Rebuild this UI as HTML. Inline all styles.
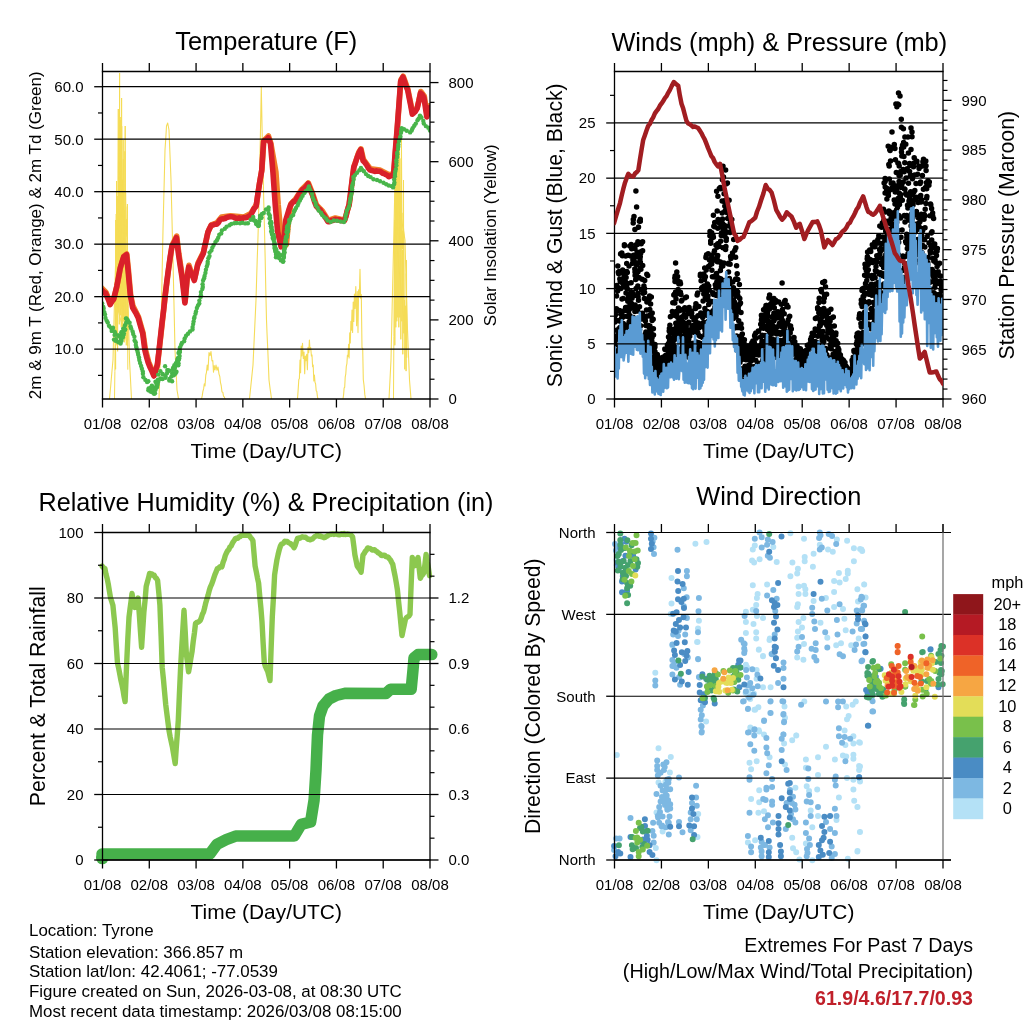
<!DOCTYPE html><html><head><meta charset="utf-8"><style>html,body{margin:0;padding:0;background:#fff;width:1024px;height:1024px;overflow:hidden}svg{display:block;will-change:transform;-webkit-font-smoothing:antialiased}</style></head><body><svg width="1024" height="1024" viewBox="0 0 1024 1024" font-family="Liberation Sans, sans-serif">
<rect width="1024" height="1024" fill="#fff"/>
<defs><clipPath id="cTL"><rect x="102.5" y="71.5" width="327.5" height="327.5"/></clipPath></defs><g clip-path="url(#cTL)">
<polyline points="159.0,399.0 160.0,364.5 161.0,330.0 162.0,280.0 163.0,230.0 164.0,190.0 165.0,150.0 165.8,138.0 166.5,126.0 167.7,123.0 169.0,130.0 170.0,155.0 171.0,180.0 172.0,220.0 173.0,260.0 174.0,305.0 175.0,350.0 176.0,370.0 177.0,390.0 177.8,394.5 178.5,399.0" fill="none" stroke="#f5dc5a" stroke-width="1.1" stroke-linejoin="round" stroke-linecap="round" />
<polyline points="201.5,399.0 202.2,395.9 202.9,391.4 203.6,388.9 204.3,383.8 205.0,385.9 205.8,375.0 206.5,372.3 207.2,365.0 208.0,370.3 209.0,352.5 210.0,355.6 211.0,351.5 212.0,361.0 212.8,360.5 213.5,372.1 214.2,365.5 215.0,370.0 216.0,365.0 217.0,370.3 218.0,367.0 219.0,374.1 219.8,376.5 220.5,382.6 221.2,385.5 222.0,392.0 222.8,392.2 223.5,396.2 224.2,396.8 225.0,399.0" fill="none" stroke="#f5dc5a" stroke-width="1.1" stroke-linejoin="round" stroke-linecap="round" />
<polyline points="249.5,399.0 250.2,392.2 250.9,385.4 251.6,378.6 252.3,371.8 253.0,365.0 253.6,352.0 254.2,339.0 254.8,326.0 255.4,313.0 256.0,300.0 256.6,280.0 257.2,260.0 257.9,240.0 258.5,220.0 259.1,193.3 259.7,166.7 260.3,140.0 261.3,87.0 262.5,150.0 263.2,176.7 263.8,203.3 264.5,230.0 265.2,260.0 265.8,290.0 266.5,320.0 267.1,335.0 267.8,350.0 268.4,365.0 269.0,380.0 269.6,384.8 270.2,389.5 270.9,394.2 271.5,399.0" fill="none" stroke="#f5dc5a" stroke-width="1.1" stroke-linejoin="round" stroke-linecap="round" />
<polyline points="297.5,399.0 298.1,390.6 298.8,379.5 299.4,378.6 300.0,360.0 300.6,372.7 301.2,346.0 301.8,355.9 302.5,343.3 303.3,358.4 304.0,352.0 304.7,373.8 305.3,356.0 306.0,360.8 306.7,354.4 307.4,369.8 308.0,347.2 308.7,352.8 309.4,340.0 310.0,349.7 310.7,347.5 311.4,355.9 312.0,355.0 312.6,366.8 313.2,365.0 313.8,380.9 314.4,375.0 315.0,382.3 315.6,383.8 316.2,390.8 316.8,391.4 317.4,396.4 318.0,399.0" fill="none" stroke="#f5dc5a" stroke-width="1.1" stroke-linejoin="round" stroke-linecap="round" />
<polyline points="343.0,399.0 343.6,394.6 344.1,388.1 344.7,387.1 345.2,377.2 345.8,373.8 346.3,366.3 346.9,363.7 347.4,355.4 348.0,356.5 348.6,344.3 349.1,358.0 349.7,332.9 350.3,343.0 350.9,321.4 351.4,330.3 352.0,310.0 352.6,332.4 353.2,302.0 353.8,321.4 354.4,294.0 355.0,308.5 355.8,286.5 356.6,325.7 357.3,291.5 358.0,332.6 358.6,289.8 359.3,297.1 360.0,269.2 360.6,298.2 361.3,294.5 362.0,347.9 362.7,348.3 363.3,379.6 364.0,385.0 364.8,394.4 365.5,399.0" fill="none" stroke="#f5dc5a" stroke-width="1.1" stroke-linejoin="round" stroke-linecap="round" />
<polyline points="109.5,399.0 110.7,386.0 111.8,373.0 113.0,360.0 114.5,300.0 116.0,250.0 117.0,250.0 118.0,250.0 119.0,250.0 120.0,250.0 121.0,250.0 122.0,250.0 123.0,250.0 124.0,250.0 125.0,250.0 126.0,250.0 127.0,275.0 128.0,300.0 129.5,360.0 130.5,379.5 131.5,399.0" fill="none" stroke="#f5dc5a" stroke-width="1.1" stroke-linejoin="round" stroke-linecap="round" />
<polyline points="389.0,399.0 390.0,379.5 391.0,360.0 392.2,305.0 393.5,250.0 395.0,180.0 396.0,186.0 397.0,192.0 398.0,198.0 399.0,204.0 400.0,210.0 401.0,216.0 402.0,222.0 403.0,228.0 404.0,234.0 405.0,240.0 406.2,285.0 407.5,330.0 408.5,355.0 409.5,380.0 411.0,399.0" fill="none" stroke="#f5dc5a" stroke-width="1.1" stroke-linejoin="round" stroke-linecap="round" />
<polyline points="114.5,399.0 114.9,371.4 115.3,300.7 115.7,274.3 116.1,214.2 116.5,214.9 116.9,211.9 117.3,255.0 117.7,196.1 118.1,230.9 118.5,130.3 118.9,247.1 119.3,116.9 119.7,187.4 120.1,117.0 120.5,210.2 120.9,161.0 121.3,234.5 121.7,126.1 122.1,218.5 122.5,180.2 122.9,178.5 123.3,159.3 123.7,252.5 124.1,214.7 124.5,261.0 124.9,151.3 125.3,195.9 125.7,193.3 126.1,234.8 126.5,219.4 126.9,236.6 127.3,206.5 127.7,345.6 115.3,300.0 115.6,369.3 115.8,220.0 116.1,345.3 116.6,181.0 116.9,333.6 117.3,240.0 117.6,351.3 118.3,109.0 118.6,312.0 119.0,150.0 119.3,324.3 119.6,73.0 119.9,301.2 120.3,120.0 120.6,315.3 121.0,160.0 121.3,327.3 121.6,98.0 121.9,308.7 122.3,180.0 122.6,333.3 123.2,140.0 123.5,321.3 124.0,210.0 124.3,342.3 125.2,126.0 125.5,317.1 126.0,220.0 126.3,345.3 127.4,204.0 127.7,340.5 127.5,300.0 127.8,369.3" fill="none" stroke="#f5dc55" stroke-width="1.0" stroke-linejoin="round" stroke-linecap="round" stroke-linejoin="miter"/>
<polyline points="393.5,399.0 393.9,336.6 394.3,257.9 394.7,250.9 395.1,195.2 395.5,186.2 395.9,158.7 396.3,216.2 396.7,151.3 397.1,234.4 397.5,141.1 397.9,187.6 398.3,159.5 398.7,205.7 399.1,153.9 399.5,245.1 399.9,158.4 400.3,216.4 400.7,190.9 401.1,203.1 401.5,147.5 401.9,248.1 402.3,230.7 402.7,249.3 403.1,212.8 403.5,227.4 403.9,233.8 404.3,329.2 404.7,305.0 405.1,328.8 405.5,308.1 405.9,332.3 406.3,273.6 406.7,350.0 394.5,220.0 394.8,345.3 395.5,160.0 395.8,327.3 396.5,140.0 396.8,321.3 397.5,127.0 397.8,317.4 398.5,160.0 398.8,327.3 399.5,127.0 399.8,317.4 400.5,200.0 400.8,339.3 401.5,140.0 401.8,321.3 402.5,250.0 402.8,354.3 403.5,180.0 403.8,333.3 404.5,300.0 404.8,369.3 405.8,306.0 406.1,371.1 406.5,260.0 406.8,357.3" fill="none" stroke="#f5dc55" stroke-width="1.0" stroke-linejoin="round" stroke-linecap="round" stroke-linejoin="miter"/>
<polyline points="101.4,287.7 105.9,292.2 110.4,303.0 113.8,298.9 117.1,285.5 120.5,267.5 123.9,256.3 126.8,254.0 128.4,269.7 130.6,294.5 132.9,305.7 138.5,316.9 143.0,332.7 145.2,348.4 148.6,361.8 154.2,375.3 157.6,364.1 160.9,334.9 165.4,294.5 168.8,267.5 172.2,245.1 176.7,236.1 178.9,254.0 182.3,276.5 185.2,301.2 187.4,276.5 189.0,265.3 191.2,272.0 194.6,278.7 198.0,263.0 203.6,251.8 208.1,231.6 211.5,224.8 217.1,222.6 221.6,217.0 230.5,215.9 244.0,217.0 250.8,213.6 256.4,204.6 259.7,182.2 262.0,168.7 263.8,140.7 268.5,136.0 270.8,143.0 275.9,171.9 278.2,204.7 280.6,230.5 284.1,246.9 286.4,244.6 288.8,218.8 290.8,203.9 295.4,199.3 301.3,189.9 308.3,182.9 313.0,194.6 316.5,205.1 322.4,211.0 328.2,220.3 335.3,218.0 344.6,220.3 349.3,203.9 354.0,166.5 358.7,152.4 361.0,148.9 363.4,159.4 370.4,168.8 379.8,170.0 389.1,174.7 393.8,173.5 397.3,129.0 400.9,79.8 403.2,76.3 407.9,89.2 412.6,112.6 417.3,107.9 420.8,91.5 424.3,96.2 427.1,114.9 430.1,105.6" fill="none" stroke="#f07f2a" stroke-width="5.6" stroke-linejoin="round" stroke-linecap="round" />
<polyline points="101.1,289.4 102.6,291.1 104.1,292.5 105.6,293.3 107.1,296.9 108.6,300.1 110.1,304.5 111.8,301.5 113.5,299.5 115.2,293.0 116.8,286.3 118.5,277.5 120.2,268.1 121.9,262.4 123.6,257.0 126.5,254.7 128.1,270.8 130.3,295.0 132.6,307.6 134.5,310.9 136.3,313.9 138.2,317.8 139.7,323.2 141.2,328.5 142.7,333.4 144.9,350.3 146.6,357.2 148.3,363.0 150.2,367.6 152.0,371.4 153.9,376.0 155.6,370.7 157.3,365.0 158.9,351.3 160.6,335.7 162.1,322.0 163.6,310.0 165.1,295.8 166.8,281.7 168.5,268.9 170.2,256.8 171.9,246.4 173.4,244.2 174.9,241.0 176.4,237.7 178.6,254.9 180.3,266.3 182.0,277.3 184.9,302.9 187.1,277.9 188.7,267.0 190.9,273.0 192.6,276.2 194.3,280.5 196.0,272.9 197.7,264.9 199.6,261.1 201.4,257.3 203.3,253.5 204.8,245.9 206.3,239.7 207.8,232.7 209.5,228.7 211.2,225.3 213.1,225.0 214.9,224.2 216.8,224.2 218.3,222.8 219.8,220.1 221.3,219.0 223.1,218.9 224.9,218.6 226.6,217.4 228.4,217.0 230.2,216.8 231.7,216.8 233.2,217.0 234.7,217.8 236.2,218.3 237.7,218.4 239.2,217.9 240.7,218.3 242.2,218.7 243.7,217.6 245.4,217.7 247.1,217.3 248.8,216.2 250.5,215.3 252.4,211.9 254.2,208.4 256.1,206.4 257.8,194.4 259.4,184.0 261.7,170.8 263.5,141.8 265.1,140.3 266.6,139.6 268.2,137.7 270.5,143.8 272.9,171.8 275.2,204.6 277.6,231.6 279.4,239.7 281.1,246.8 283.4,245.6 285.8,220.1 287.4,214.9 288.9,209.7 290.5,205.3 292.0,203.1 293.6,201.4 295.1,201.4 297.1,197.7 299.0,194.4 301.0,191.9 302.8,189.3 304.5,188.3 306.2,186.5 308.0,183.7 309.6,187.7 311.1,191.7 312.7,195.5 314.4,201.3 316.2,206.0 318.2,208.2 320.1,209.7 322.1,213.0 324.0,215.2 326.0,218.4 327.9,221.7 329.7,221.7 331.4,220.3 333.2,220.5 335.0,219.3 336.6,219.7 338.1,220.1 339.6,219.7 341.2,220.7 342.8,220.7 344.3,220.8 345.9,216.6 347.4,210.1 349.0,205.2 350.6,193.1 352.1,180.4 353.7,167.5 355.3,163.1 356.8,158.5 358.4,154.2 360.7,149.6 363.1,160.8 364.9,162.6 366.6,165.0 368.4,168.2 370.1,170.1 371.7,170.4 373.2,170.9 374.8,171.4 376.4,170.8 377.9,171.3 379.5,171.3 381.1,172.1 382.6,173.2 384.1,173.6 385.7,174.5 387.2,175.2 388.8,176.7 390.4,175.9 391.9,175.8 393.5,175.5 395.2,152.2 397.0,130.4 398.8,106.4 400.6,81.6 402.9,77.0 404.5,81.3 406.0,86.1 407.6,89.8 409.2,97.9 410.7,105.4 412.3,114.2 413.9,112.8 415.4,111.4 417.0,108.6 418.8,101.3 420.5,93.1 422.2,94.6 424.0,98.1 426.8,116.9 428.3,111.1 429.8,107.6" fill="none" stroke="#d9202a" stroke-width="5.6" stroke-linejoin="round" stroke-linecap="round" />
<g fill="#48b54a"><circle cx="102.2" cy="303.5" r="2.2"/><circle cx="103.3" cy="307.0" r="2.2"/><circle cx="103.6" cy="308.8" r="2.2"/><circle cx="104.3" cy="312.1" r="2.2"/><circle cx="105.0" cy="314.5" r="2.2"/><circle cx="105.5" cy="317.9" r="2.2"/><circle cx="106.6" cy="320.6" r="2.2"/><circle cx="107.7" cy="322.4" r="2.2"/><circle cx="109.0" cy="325.7" r="2.2"/><circle cx="110.6" cy="327.6" r="2.2"/><circle cx="111.7" cy="330.9" r="2.2"/><circle cx="112.5" cy="328.5" r="2.2"/><circle cx="113.0" cy="327.7" r="2.2"/><circle cx="112.3" cy="330.4" r="2.2"/><circle cx="114.6" cy="334.9" r="2.2"/><circle cx="114.0" cy="339.6" r="2.2"/><circle cx="114.6" cy="331.6" r="2.2"/><circle cx="115.9" cy="339.2" r="2.2"/><circle cx="115.3" cy="333.5" r="2.2"/><circle cx="115.6" cy="340.7" r="2.2"/><circle cx="118.4" cy="335.5" r="2.2"/><circle cx="118.3" cy="342.3" r="2.2"/><circle cx="118.3" cy="335.7" r="2.2"/><circle cx="120.6" cy="337.7" r="2.2"/><circle cx="120.0" cy="342.3" r="2.2"/><circle cx="120.6" cy="343.5" r="2.2"/><circle cx="120.6" cy="337.5" r="2.2"/><circle cx="120.7" cy="340.6" r="2.2"/><circle cx="120.6" cy="335.6" r="2.2"/><circle cx="121.4" cy="332.3" r="2.2"/><circle cx="121.5" cy="335.4" r="2.2"/><circle cx="121.5" cy="340.8" r="2.2"/><circle cx="122.1" cy="335.1" r="2.2"/><circle cx="122.0" cy="333.2" r="2.2"/><circle cx="122.0" cy="332.1" r="2.2"/><circle cx="123.3" cy="335.2" r="2.2"/><circle cx="123.2" cy="328.7" r="2.2"/><circle cx="122.8" cy="337.6" r="2.2"/><circle cx="123.9" cy="333.6" r="2.2"/><circle cx="124.3" cy="329.8" r="2.2"/><circle cx="124.0" cy="328.5" r="2.2"/><circle cx="125.2" cy="329.5" r="2.2"/><circle cx="125.0" cy="325.3" r="2.2"/><circle cx="124.8" cy="329.7" r="2.2"/><circle cx="126.2" cy="322.7" r="2.2"/><circle cx="126.0" cy="318.5" r="2.2"/><circle cx="126.6" cy="318.7" r="2.2"/><circle cx="127.8" cy="320.2" r="2.2"/><circle cx="129.6" cy="322.8" r="2.2"/><circle cx="130.5" cy="326.5" r="2.2"/><circle cx="131.2" cy="328.6" r="2.2"/><circle cx="132.6" cy="331.5" r="2.2"/><circle cx="133.2" cy="334.0" r="2.2"/><circle cx="134.4" cy="336.8" r="2.2"/><circle cx="134.6" cy="340.4" r="2.2"/><circle cx="135.7" cy="342.2" r="2.2"/><circle cx="135.8" cy="345.0" r="2.2"/><circle cx="136.4" cy="347.2" r="2.2"/><circle cx="137.2" cy="350.3" r="2.2"/><circle cx="137.8" cy="352.5" r="2.2"/><circle cx="138.2" cy="354.8" r="2.2"/><circle cx="139.0" cy="357.5" r="2.2"/><circle cx="139.3" cy="360.0" r="2.2"/><circle cx="140.1" cy="362.9" r="2.2"/><circle cx="141.1" cy="365.9" r="2.2"/><circle cx="141.9" cy="368.8" r="2.2"/><circle cx="142.8" cy="371.5" r="2.2"/><circle cx="142.9" cy="373.8" r="2.2"/><circle cx="143.4" cy="377.2" r="2.2"/><circle cx="145.4" cy="379.9" r="2.2"/><circle cx="147.1" cy="382.1" r="2.2"/><circle cx="148.4" cy="390.3" r="2.2"/><circle cx="148.6" cy="388.4" r="2.2"/><circle cx="148.3" cy="381.3" r="2.2"/><circle cx="150.5" cy="387.9" r="2.2"/><circle cx="150.5" cy="391.5" r="2.2"/><circle cx="150.6" cy="388.8" r="2.2"/><circle cx="152.2" cy="392.3" r="2.2"/><circle cx="151.6" cy="386.8" r="2.2"/><circle cx="151.9" cy="385.7" r="2.2"/><circle cx="154.2" cy="387.6" r="2.2"/><circle cx="154.0" cy="393.0" r="2.2"/><circle cx="154.1" cy="393.8" r="2.2"/><circle cx="154.3" cy="389.5" r="2.2"/><circle cx="155.0" cy="393.2" r="2.2"/><circle cx="154.8" cy="389.6" r="2.2"/><circle cx="155.3" cy="388.8" r="2.2"/><circle cx="155.5" cy="389.7" r="2.2"/><circle cx="155.5" cy="381.8" r="2.2"/><circle cx="156.3" cy="387.0" r="2.2"/><circle cx="157.1" cy="387.1" r="2.2"/><circle cx="156.5" cy="384.1" r="2.2"/><circle cx="157.7" cy="381.2" r="2.2"/><circle cx="157.6" cy="384.7" r="2.2"/><circle cx="157.1" cy="383.2" r="2.2"/><circle cx="158.2" cy="374.6" r="2.2"/><circle cx="158.2" cy="381.7" r="2.2"/><circle cx="157.9" cy="379.6" r="2.2"/><circle cx="160.4" cy="371.3" r="2.2"/><circle cx="160.8" cy="378.6" r="2.2"/><circle cx="160.4" cy="378.7" r="2.2"/><circle cx="162.8" cy="374.5" r="2.2"/><circle cx="162.5" cy="373.9" r="2.2"/><circle cx="162.6" cy="379.1" r="2.2"/><circle cx="165.5" cy="377.8" r="2.2"/><circle cx="165.1" cy="366.3" r="2.2"/><circle cx="165.6" cy="375.9" r="2.2"/><circle cx="167.1" cy="373.0" r="2.2"/><circle cx="167.8" cy="370.1" r="2.2"/><circle cx="167.4" cy="370.1" r="2.2"/><circle cx="169.7" cy="370.8" r="2.2"/><circle cx="169.3" cy="380.5" r="2.2"/><circle cx="169.6" cy="378.9" r="2.2"/><circle cx="172.1" cy="381.2" r="2.2"/><circle cx="172.3" cy="373.4" r="2.2"/><circle cx="171.4" cy="376.4" r="2.2"/><circle cx="173.0" cy="367.9" r="2.2"/><circle cx="172.8" cy="373.3" r="2.2"/><circle cx="172.9" cy="369.6" r="2.2"/><circle cx="174.5" cy="369.0" r="2.2"/><circle cx="174.4" cy="365.2" r="2.2"/><circle cx="173.8" cy="375.3" r="2.2"/><circle cx="175.5" cy="373.6" r="2.2"/><circle cx="175.0" cy="373.3" r="2.2"/><circle cx="175.2" cy="367.0" r="2.2"/><circle cx="176.5" cy="371.8" r="2.2"/><circle cx="176.3" cy="364.1" r="2.2"/><circle cx="175.9" cy="363.1" r="2.2"/><circle cx="177.8" cy="358.3" r="2.2"/><circle cx="177.9" cy="360.5" r="2.2"/><circle cx="177.3" cy="360.1" r="2.2"/><circle cx="177.7" cy="360.7" r="2.2"/><circle cx="178.4" cy="359.0" r="2.2"/><circle cx="178.3" cy="365.2" r="2.2"/><circle cx="178.9" cy="359.6" r="2.2"/><circle cx="178.5" cy="363.3" r="2.2"/><circle cx="178.0" cy="360.6" r="2.2"/><circle cx="178.9" cy="358.2" r="2.2"/><circle cx="179.1" cy="358.5" r="2.2"/><circle cx="178.5" cy="352.9" r="2.2"/><circle cx="179.0" cy="358.0" r="2.2"/><circle cx="179.2" cy="352.5" r="2.2"/><circle cx="179.6" cy="350.4" r="2.2"/><circle cx="179.6" cy="356.0" r="2.2"/><circle cx="179.7" cy="352.2" r="2.2"/><circle cx="179.8" cy="351.0" r="2.2"/><circle cx="180.0" cy="347.4" r="2.2"/><circle cx="181.2" cy="344.8" r="2.2"/><circle cx="181.9" cy="342.9" r="2.2"/><circle cx="184.1" cy="341.2" r="2.2"/><circle cx="184.7" cy="338.4" r="2.2"/><circle cx="186.1" cy="335.8" r="2.2"/><circle cx="188.0" cy="333.7" r="2.2"/><circle cx="190.0" cy="331.4" r="2.2"/><circle cx="192.5" cy="329.5" r="2.2"/><circle cx="192.6" cy="327.1" r="2.2"/><circle cx="193.2" cy="324.1" r="2.2"/><circle cx="193.6" cy="321.4" r="2.2"/><circle cx="194.1" cy="318.4" r="2.2"/><circle cx="194.5" cy="316.9" r="2.2"/><circle cx="195.5" cy="313.7" r="2.2"/><circle cx="196.0" cy="311.4" r="2.2"/><circle cx="196.9" cy="308.0" r="2.2"/><circle cx="198.0" cy="305.5" r="2.2"/><circle cx="199.3" cy="303.4" r="2.2"/><circle cx="199.4" cy="300.6" r="2.2"/><circle cx="200.6" cy="296.9" r="2.2"/><circle cx="200.9" cy="295.2" r="2.2"/><circle cx="200.9" cy="292.1" r="2.2"/><circle cx="202.3" cy="289.1" r="2.2"/><circle cx="202.8" cy="286.9" r="2.2"/><circle cx="202.6" cy="284.3" r="2.2"/><circle cx="203.1" cy="280.5" r="2.2"/><circle cx="204.1" cy="278.3" r="2.2"/><circle cx="204.6" cy="276.0" r="2.2"/><circle cx="205.4" cy="272.9" r="2.2"/><circle cx="205.9" cy="269.8" r="2.2"/><circle cx="206.8" cy="266.5" r="2.2"/><circle cx="207.6" cy="264.0" r="2.2"/><circle cx="207.7" cy="261.7" r="2.2"/><circle cx="208.4" cy="258.3" r="2.2"/><circle cx="209.5" cy="256.1" r="2.2"/><circle cx="209.6" cy="252.6" r="2.2"/><circle cx="211.4" cy="250.4" r="2.2"/><circle cx="212.4" cy="247.6" r="2.2"/><circle cx="213.6" cy="245.1" r="2.2"/><circle cx="215.4" cy="242.1" r="2.2"/><circle cx="216.9" cy="240.2" r="2.2"/><circle cx="218.2" cy="237.8" r="2.2"/><circle cx="219.3" cy="234.8" r="2.2"/><circle cx="221.2" cy="233.4" r="2.2"/><circle cx="221.9" cy="230.4" r="2.2"/><circle cx="224.8" cy="228.7" r="2.2"/><circle cx="226.6" cy="226.8" r="2.2"/><circle cx="229.5" cy="225.2" r="2.2"/><circle cx="231.3" cy="223.9" r="2.2"/><circle cx="234.3" cy="223.3" r="2.2"/><circle cx="236.7" cy="223.0" r="2.2"/><circle cx="240.0" cy="223.2" r="2.2"/><circle cx="242.3" cy="222.8" r="2.2"/><circle cx="245.2" cy="223.4" r="2.2"/><circle cx="247.9" cy="223.2" r="2.2"/><circle cx="250.7" cy="219.7" r="2.2"/><circle cx="253.2" cy="217.0" r="2.2"/><circle cx="253.9" cy="220.2" r="2.2"/><circle cx="255.6" cy="221.5" r="2.2"/><circle cx="256.1" cy="224.1" r="2.2"/><circle cx="255.6" cy="221.0" r="2.2"/><circle cx="257.7" cy="224.4" r="2.2"/><circle cx="256.8" cy="224.0" r="2.2"/><circle cx="257.1" cy="223.5" r="2.2"/><circle cx="258.7" cy="225.7" r="2.2"/><circle cx="258.8" cy="224.7" r="2.2"/><circle cx="258.2" cy="225.9" r="2.2"/><circle cx="259.9" cy="218.6" r="2.2"/><circle cx="259.0" cy="222.0" r="2.2"/><circle cx="259.3" cy="221.5" r="2.2"/><circle cx="260.4" cy="216.9" r="2.2"/><circle cx="260.1" cy="215.7" r="2.2"/><circle cx="260.4" cy="216.4" r="2.2"/><circle cx="261.3" cy="217.6" r="2.2"/><circle cx="261.4" cy="217.7" r="2.2"/><circle cx="262.0" cy="214.0" r="2.2"/><circle cx="263.8" cy="212.9" r="2.2"/><circle cx="266.0" cy="209.5" r="2.2"/><circle cx="268.6" cy="207.4" r="2.2"/><circle cx="268.5" cy="209.9" r="2.2"/><circle cx="268.6" cy="213.4" r="2.2"/><circle cx="269.8" cy="215.4" r="2.2"/><circle cx="269.5" cy="218.5" r="2.2"/><circle cx="270.0" cy="218.0" r="2.2"/><circle cx="270.1" cy="223.3" r="2.2"/><circle cx="270.8" cy="222.3" r="2.2"/><circle cx="270.6" cy="222.5" r="2.2"/><circle cx="270.9" cy="226.2" r="2.2"/><circle cx="271.0" cy="222.0" r="2.2"/><circle cx="271.0" cy="225.0" r="2.2"/><circle cx="271.5" cy="223.1" r="2.2"/><circle cx="271.4" cy="228.6" r="2.2"/><circle cx="271.2" cy="231.4" r="2.2"/><circle cx="271.7" cy="227.1" r="2.2"/><circle cx="272.2" cy="231.4" r="2.2"/><circle cx="271.9" cy="230.6" r="2.2"/><circle cx="272.2" cy="230.8" r="2.2"/><circle cx="271.9" cy="233.8" r="2.2"/><circle cx="272.9" cy="235.7" r="2.2"/><circle cx="272.9" cy="235.8" r="2.2"/><circle cx="272.5" cy="234.5" r="2.2"/><circle cx="273.0" cy="235.3" r="2.2"/><circle cx="272.7" cy="238.1" r="2.2"/><circle cx="273.4" cy="234.6" r="2.2"/><circle cx="273.1" cy="237.5" r="2.2"/><circle cx="273.6" cy="236.2" r="2.2"/><circle cx="274.1" cy="237.9" r="2.2"/><circle cx="274.5" cy="243.9" r="2.2"/><circle cx="273.6" cy="240.1" r="2.2"/><circle cx="274.0" cy="239.1" r="2.2"/><circle cx="274.5" cy="245.4" r="2.2"/><circle cx="274.4" cy="242.5" r="2.2"/><circle cx="274.7" cy="244.8" r="2.2"/><circle cx="275.3" cy="248.2" r="2.2"/><circle cx="274.6" cy="247.7" r="2.2"/><circle cx="274.8" cy="248.7" r="2.2"/><circle cx="275.3" cy="249.7" r="2.2"/><circle cx="275.2" cy="250.7" r="2.2"/><circle cx="275.2" cy="247.7" r="2.2"/><circle cx="276.3" cy="249.7" r="2.2"/><circle cx="275.8" cy="252.3" r="2.2"/><circle cx="276.4" cy="251.2" r="2.2"/><circle cx="276.1" cy="254.4" r="2.2"/><circle cx="276.6" cy="256.3" r="2.2"/><circle cx="276.0" cy="257.3" r="2.2"/><circle cx="279.1" cy="255.8" r="2.2"/><circle cx="279.1" cy="258.0" r="2.2"/><circle cx="278.5" cy="253.2" r="2.2"/><circle cx="280.8" cy="255.2" r="2.2"/><circle cx="281.1" cy="260.4" r="2.2"/><circle cx="280.9" cy="260.1" r="2.2"/><circle cx="283.3" cy="261.3" r="2.2"/><circle cx="283.7" cy="257.7" r="2.2"/><circle cx="283.0" cy="261.8" r="2.2"/><circle cx="283.9" cy="257.0" r="2.2"/><circle cx="283.6" cy="254.7" r="2.2"/><circle cx="283.5" cy="254.2" r="2.2"/><circle cx="284.2" cy="252.2" r="2.2"/><circle cx="283.8" cy="254.6" r="2.2"/><circle cx="284.0" cy="250.8" r="2.2"/><circle cx="284.2" cy="252.1" r="2.2"/><circle cx="284.2" cy="249.9" r="2.2"/><circle cx="284.5" cy="252.8" r="2.2"/><circle cx="284.4" cy="245.7" r="2.2"/><circle cx="284.9" cy="247.7" r="2.2"/><circle cx="284.4" cy="249.1" r="2.2"/><circle cx="285.4" cy="243.6" r="2.2"/><circle cx="285.0" cy="245.1" r="2.2"/><circle cx="285.7" cy="244.4" r="2.2"/><circle cx="285.6" cy="241.8" r="2.2"/><circle cx="285.5" cy="242.0" r="2.2"/><circle cx="286.1" cy="245.1" r="2.2"/><circle cx="285.6" cy="239.4" r="2.2"/><circle cx="285.6" cy="241.6" r="2.2"/><circle cx="286.3" cy="237.2" r="2.2"/><circle cx="286.6" cy="237.0" r="2.2"/><circle cx="286.7" cy="236.9" r="2.2"/><circle cx="286.0" cy="237.3" r="2.2"/><circle cx="286.7" cy="231.9" r="2.2"/><circle cx="287.1" cy="235.6" r="2.2"/><circle cx="286.8" cy="232.3" r="2.2"/><circle cx="287.0" cy="231.3" r="2.2"/><circle cx="286.8" cy="230.0" r="2.2"/><circle cx="287.4" cy="232.2" r="2.2"/><circle cx="287.4" cy="227.1" r="2.2"/><circle cx="287.8" cy="231.2" r="2.2"/><circle cx="287.0" cy="227.6" r="2.2"/><circle cx="288.2" cy="229.4" r="2.2"/><circle cx="287.3" cy="226.6" r="2.2"/><circle cx="287.6" cy="229.3" r="2.2"/><circle cx="288.2" cy="226.4" r="2.2"/><circle cx="287.8" cy="225.9" r="2.2"/><circle cx="287.8" cy="225.7" r="2.2"/><circle cx="289.6" cy="221.1" r="2.2"/><circle cx="289.0" cy="223.6" r="2.2"/><circle cx="289.2" cy="220.0" r="2.2"/><circle cx="290.3" cy="219.3" r="2.2"/><circle cx="291.4" cy="216.5" r="2.2"/><circle cx="293.2" cy="214.9" r="2.2"/><circle cx="294.1" cy="211.7" r="2.2"/><circle cx="294.7" cy="210.3" r="2.2"/><circle cx="296.0" cy="208.0" r="2.2"/><circle cx="297.6" cy="205.4" r="2.2"/><circle cx="298.5" cy="203.1" r="2.2"/><circle cx="299.9" cy="200.5" r="2.2"/><circle cx="301.2" cy="198.1" r="2.2"/><circle cx="302.6" cy="195.8" r="2.2"/><circle cx="304.4" cy="192.9" r="2.2"/><circle cx="305.7" cy="191.2" r="2.2"/><circle cx="307.8" cy="189.2" r="2.2"/><circle cx="308.9" cy="186.4" r="2.2"/><circle cx="309.8" cy="189.1" r="2.2"/><circle cx="311.1" cy="191.4" r="2.2"/><circle cx="312.1" cy="194.0" r="2.2"/><circle cx="312.7" cy="197.2" r="2.2"/><circle cx="313.8" cy="200.0" r="2.2"/><circle cx="315.5" cy="202.8" r="2.2"/><circle cx="315.8" cy="205.2" r="2.2"/><circle cx="317.5" cy="207.6" r="2.2"/><circle cx="318.7" cy="210.5" r="2.2"/><circle cx="321.0" cy="212.7" r="2.2"/><circle cx="322.2" cy="214.9" r="2.2"/><circle cx="323.8" cy="216.6" r="2.2"/><circle cx="326.1" cy="218.5" r="2.2"/><circle cx="327.6" cy="220.6" r="2.2"/><circle cx="330.7" cy="221.9" r="2.2"/><circle cx="333.7" cy="220.5" r="2.2"/><circle cx="337.0" cy="220.8" r="2.2"/><circle cx="340.6" cy="221.5" r="2.2"/><circle cx="343.9" cy="222.0" r="2.2"/><circle cx="345.5" cy="219.0" r="2.2"/><circle cx="345.5" cy="216.0" r="2.2"/><circle cx="346.3" cy="213.7" r="2.2"/><circle cx="346.9" cy="210.5" r="2.2"/><circle cx="348.4" cy="208.1" r="2.2"/><circle cx="349.1" cy="206.1" r="2.2"/><circle cx="349.7" cy="202.8" r="2.2"/><circle cx="350.2" cy="200.1" r="2.2"/><circle cx="350.4" cy="198.2" r="2.2"/><circle cx="351.0" cy="195.8" r="2.2"/><circle cx="351.7" cy="192.9" r="2.2"/><circle cx="352.2" cy="189.7" r="2.2"/><circle cx="352.0" cy="187.7" r="2.2"/><circle cx="352.3" cy="185.3" r="2.2"/><circle cx="353.0" cy="182.9" r="2.2"/><circle cx="353.6" cy="179.5" r="2.2"/><circle cx="353.4" cy="177.0" r="2.2"/><circle cx="355.0" cy="175.1" r="2.2"/><circle cx="357.0" cy="172.8" r="2.2"/><circle cx="359.4" cy="170.3" r="2.2"/><circle cx="360.9" cy="167.9" r="2.2"/><circle cx="362.0" cy="169.6" r="2.2"/><circle cx="363.9" cy="171.3" r="2.2"/><circle cx="366.0" cy="174.1" r="2.2"/><circle cx="368.2" cy="176.0" r="2.2"/><circle cx="370.6" cy="177.1" r="2.2"/><circle cx="373.5" cy="179.3" r="2.2"/><circle cx="377.0" cy="180.0" r="2.2"/><circle cx="380.1" cy="181.3" r="2.2"/><circle cx="383.5" cy="182.7" r="2.2"/><circle cx="386.2" cy="184.3" r="2.2"/><circle cx="388.8" cy="185.5" r="2.2"/><circle cx="391.6" cy="186.1" r="2.2"/><circle cx="393.1" cy="187.4" r="2.2"/><circle cx="394.0" cy="184.5" r="2.2"/><circle cx="394.4" cy="182.7" r="2.2"/><circle cx="394.2" cy="179.4" r="2.2"/><circle cx="394.9" cy="176.2" r="2.2"/><circle cx="394.9" cy="174.1" r="2.2"/><circle cx="395.3" cy="171.5" r="2.2"/><circle cx="395.9" cy="169.1" r="2.2"/><circle cx="396.4" cy="165.5" r="2.2"/><circle cx="396.4" cy="162.6" r="2.2"/><circle cx="396.4" cy="160.3" r="2.2"/><circle cx="397.2" cy="157.1" r="2.2"/><circle cx="397.3" cy="154.3" r="2.2"/><circle cx="397.2" cy="152.7" r="2.2"/><circle cx="398.0" cy="149.1" r="2.2"/><circle cx="398.3" cy="146.7" r="2.2"/><circle cx="398.4" cy="144.4" r="2.2"/><circle cx="399.0" cy="141.1" r="2.2"/><circle cx="400.1" cy="138.1" r="2.2"/><circle cx="400.4" cy="136.4" r="2.2"/><circle cx="401.0" cy="132.8" r="2.2"/><circle cx="401.2" cy="131.0" r="2.2"/><circle cx="401.7" cy="128.3" r="2.2"/><circle cx="404.0" cy="129.2" r="2.2"/><circle cx="406.7" cy="130.7" r="2.2"/><circle cx="410.1" cy="132.4" r="2.2"/><circle cx="411.7" cy="130.5" r="2.2"/><circle cx="412.6" cy="128.2" r="2.2"/><circle cx="414.3" cy="125.7" r="2.2"/><circle cx="415.8" cy="123.6" r="2.2"/><circle cx="417.5" cy="120.3" r="2.2"/><circle cx="418.7" cy="118.4" r="2.2"/><circle cx="420.0" cy="115.6" r="2.2"/><circle cx="421.4" cy="117.5" r="2.2"/><circle cx="423.3" cy="120.9" r="2.2"/><circle cx="423.8" cy="123.6" r="2.2"/><circle cx="425.8" cy="126.1" r="2.2"/><circle cx="428.3" cy="127.7" r="2.2"/><circle cx="430.0" cy="130.5" r="2.2"/></g>
</g>
<line x1="98.00" y1="375.38" x2="102.50" y2="375.38" stroke="#000" stroke-width="1.2"/>
<line x1="98.00" y1="322.90" x2="102.50" y2="322.90" stroke="#000" stroke-width="1.2"/>
<line x1="98.00" y1="270.41" x2="102.50" y2="270.41" stroke="#000" stroke-width="1.2"/>
<line x1="98.00" y1="217.93" x2="102.50" y2="217.93" stroke="#000" stroke-width="1.2"/>
<line x1="98.00" y1="165.45" x2="102.50" y2="165.45" stroke="#000" stroke-width="1.2"/>
<line x1="98.00" y1="112.96" x2="102.50" y2="112.96" stroke="#000" stroke-width="1.2"/>
<line x1="94.20" y1="349.14" x2="102.50" y2="349.14" stroke="#000" stroke-width="1.3"/>
<line x1="102.50" y1="349.14" x2="430.00" y2="349.14" stroke="#000" stroke-width="1.2"/>
<text x="83.50" y="354.44" font-size="15" text-anchor="end" fill="#000">10.0</text>
<line x1="94.20" y1="296.66" x2="102.50" y2="296.66" stroke="#000" stroke-width="1.3"/>
<line x1="102.50" y1="296.66" x2="430.00" y2="296.66" stroke="#000" stroke-width="1.2"/>
<text x="83.50" y="301.96" font-size="15" text-anchor="end" fill="#000">20.0</text>
<line x1="94.20" y1="244.17" x2="102.50" y2="244.17" stroke="#000" stroke-width="1.3"/>
<line x1="102.50" y1="244.17" x2="430.00" y2="244.17" stroke="#000" stroke-width="1.2"/>
<text x="83.50" y="249.47" font-size="15" text-anchor="end" fill="#000">30.0</text>
<line x1="94.20" y1="191.69" x2="102.50" y2="191.69" stroke="#000" stroke-width="1.3"/>
<line x1="102.50" y1="191.69" x2="430.00" y2="191.69" stroke="#000" stroke-width="1.2"/>
<text x="83.50" y="196.99" font-size="15" text-anchor="end" fill="#000">40.0</text>
<line x1="94.20" y1="139.20" x2="102.50" y2="139.20" stroke="#000" stroke-width="1.3"/>
<line x1="102.50" y1="139.20" x2="430.00" y2="139.20" stroke="#000" stroke-width="1.2"/>
<text x="83.50" y="144.50" font-size="15" text-anchor="end" fill="#000">50.0</text>
<line x1="94.20" y1="86.72" x2="102.50" y2="86.72" stroke="#000" stroke-width="1.3"/>
<line x1="102.50" y1="86.72" x2="430.00" y2="86.72" stroke="#000" stroke-width="1.2"/>
<text x="83.50" y="92.02" font-size="15" text-anchor="end" fill="#000">60.0</text>
<line x1="430.00" y1="379.22" x2="434.50" y2="379.22" stroke="#000" stroke-width="1.2"/>
<line x1="430.00" y1="359.45" x2="434.50" y2="359.45" stroke="#000" stroke-width="1.2"/>
<line x1="430.00" y1="339.67" x2="434.50" y2="339.67" stroke="#000" stroke-width="1.2"/>
<line x1="430.00" y1="300.12" x2="434.50" y2="300.12" stroke="#000" stroke-width="1.2"/>
<line x1="430.00" y1="280.34" x2="434.50" y2="280.34" stroke="#000" stroke-width="1.2"/>
<line x1="430.00" y1="260.56" x2="434.50" y2="260.56" stroke="#000" stroke-width="1.2"/>
<line x1="430.00" y1="221.01" x2="434.50" y2="221.01" stroke="#000" stroke-width="1.2"/>
<line x1="430.00" y1="201.23" x2="434.50" y2="201.23" stroke="#000" stroke-width="1.2"/>
<line x1="430.00" y1="181.46" x2="434.50" y2="181.46" stroke="#000" stroke-width="1.2"/>
<line x1="430.00" y1="141.90" x2="434.50" y2="141.90" stroke="#000" stroke-width="1.2"/>
<line x1="430.00" y1="122.13" x2="434.50" y2="122.13" stroke="#000" stroke-width="1.2"/>
<line x1="430.00" y1="102.35" x2="434.50" y2="102.35" stroke="#000" stroke-width="1.2"/>
<line x1="430.00" y1="399.00" x2="438.50" y2="399.00" stroke="#000" stroke-width="1.3"/>
<text x="448.50" y="404.30" font-size="15" text-anchor="start" fill="#000">0</text>
<line x1="430.00" y1="319.89" x2="438.50" y2="319.89" stroke="#000" stroke-width="1.3"/>
<text x="448.50" y="325.19" font-size="15" text-anchor="start" fill="#000">200</text>
<line x1="430.00" y1="240.79" x2="438.50" y2="240.79" stroke="#000" stroke-width="1.3"/>
<text x="448.50" y="246.09" font-size="15" text-anchor="start" fill="#000">400</text>
<line x1="430.00" y1="161.68" x2="438.50" y2="161.68" stroke="#000" stroke-width="1.3"/>
<text x="448.50" y="166.98" font-size="15" text-anchor="start" fill="#000">600</text>
<line x1="430.00" y1="82.57" x2="438.50" y2="82.57" stroke="#000" stroke-width="1.3"/>
<text x="448.50" y="87.87" font-size="15" text-anchor="start" fill="#000">800</text>
<line x1="101.85" y1="71.50" x2="430.65" y2="71.50" stroke="#000" stroke-width="1.3"/>
<line x1="101.85" y1="399.00" x2="430.65" y2="399.00" stroke="#000" stroke-width="1.3"/>
<line x1="102.50" y1="71.50" x2="102.50" y2="399.00" stroke="#000" stroke-width="1.3"/>
<line x1="430.00" y1="71.50" x2="430.00" y2="399.00" stroke="#000" stroke-width="1.3"/>
<line x1="102.50" y1="399.00" x2="102.50" y2="407.50" stroke="#000" stroke-width="1.3"/>
<line x1="102.50" y1="71.50" x2="102.50" y2="63.00" stroke="#000" stroke-width="1.3"/>
<text x="102.50" y="429.30" font-size="15" text-anchor="middle" fill="#000">01/08</text>
<line x1="149.29" y1="399.00" x2="149.29" y2="407.50" stroke="#000" stroke-width="1.3"/>
<line x1="149.29" y1="71.50" x2="149.29" y2="63.00" stroke="#000" stroke-width="1.3"/>
<text x="149.29" y="429.30" font-size="15" text-anchor="middle" fill="#000">02/08</text>
<line x1="196.07" y1="399.00" x2="196.07" y2="407.50" stroke="#000" stroke-width="1.3"/>
<line x1="196.07" y1="71.50" x2="196.07" y2="63.00" stroke="#000" stroke-width="1.3"/>
<text x="196.07" y="429.30" font-size="15" text-anchor="middle" fill="#000">03/08</text>
<line x1="242.86" y1="399.00" x2="242.86" y2="407.50" stroke="#000" stroke-width="1.3"/>
<line x1="242.86" y1="71.50" x2="242.86" y2="63.00" stroke="#000" stroke-width="1.3"/>
<text x="242.86" y="429.30" font-size="15" text-anchor="middle" fill="#000">04/08</text>
<line x1="289.64" y1="399.00" x2="289.64" y2="407.50" stroke="#000" stroke-width="1.3"/>
<line x1="289.64" y1="71.50" x2="289.64" y2="63.00" stroke="#000" stroke-width="1.3"/>
<text x="289.64" y="429.30" font-size="15" text-anchor="middle" fill="#000">05/08</text>
<line x1="336.43" y1="399.00" x2="336.43" y2="407.50" stroke="#000" stroke-width="1.3"/>
<line x1="336.43" y1="71.50" x2="336.43" y2="63.00" stroke="#000" stroke-width="1.3"/>
<text x="336.43" y="429.30" font-size="15" text-anchor="middle" fill="#000">06/08</text>
<line x1="383.21" y1="399.00" x2="383.21" y2="407.50" stroke="#000" stroke-width="1.3"/>
<line x1="383.21" y1="71.50" x2="383.21" y2="63.00" stroke="#000" stroke-width="1.3"/>
<text x="383.21" y="429.30" font-size="15" text-anchor="middle" fill="#000">07/08</text>
<line x1="430.00" y1="399.00" x2="430.00" y2="407.50" stroke="#000" stroke-width="1.3"/>
<line x1="430.00" y1="71.50" x2="430.00" y2="63.00" stroke="#000" stroke-width="1.3"/>
<text x="430.00" y="429.30" font-size="15" text-anchor="middle" fill="#000">08/08</text>
<text x="266.25" y="458.00" font-size="20.9" text-anchor="middle" fill="#000">Time (Day/UTC)</text>
<text x="266.25" y="50.40" font-size="25.4" text-anchor="middle" fill="#000">Temperature (F)</text>
<text x="41.10" y="235.25" font-size="17.0" text-anchor="middle" fill="#000" transform="rotate(-90 41.1 235.25)">2m &amp; 9m T (Red, Orange) &amp; 2m Td (Green)</text>
<text x="495.70" y="235.25" font-size="17.0" text-anchor="middle" fill="#000" transform="rotate(-90 495.7 235.25)">Solar Insolation (Yellow)</text>
<defs><clipPath id="cTR"><rect x="614.5" y="71.5" width="328.5" height="327.5"/></clipPath></defs><g clip-path="url(#cTR)">
<path d="M615.0 322.0h0M614.9 338.6h0M614.9 319.0h0M614.8 341.1h0M614.4 330.3h0M614.7 356.3h0M615.7 360.1h0M615.0 357.1h0M615.7 358.9h0M615.1 344.4h0M615.0 361.8h0M615.5 314.7h0M616.4 308.8h0M616.3 357.6h0M616.5 339.1h0M616.5 295.9h0M616.5 357.6h0M616.6 285.4h0M616.8 352.6h0M616.6 352.4h0M617.2 286.6h0M617.3 310.0h0M616.8 310.2h0M616.7 353.0h0M617.6 291.1h0M617.7 334.9h0M617.6 353.2h0M618.0 337.8h0M617.7 330.8h0M617.8 265.9h0M618.7 273.7h0M618.5 349.9h0M618.8 320.4h0M618.8 328.7h0M618.4 310.2h0M618.3 272.3h0M619.1 271.5h0M619.2 347.7h0M619.8 278.9h0M619.4 347.6h0M619.6 310.5h0M619.4 338.2h0M620.5 321.5h0M620.6 329.5h0M620.0 327.4h0M620.2 281.5h0M620.3 340.7h0M620.4 342.4h0M621.2 279.8h0M620.9 288.5h0M620.9 314.0h0M620.7 253.8h0M620.6 254.1h0M620.8 331.8h0M621.8 253.0h0M622.1 315.0h0M621.8 327.9h0M622.0 299.1h0M621.9 272.6h0M621.7 317.9h0M622.9 331.8h0M622.8 283.6h0M622.6 330.8h0M622.7 270.1h0M622.6 333.6h0M622.4 255.8h0M623.2 327.5h0M623.7 278.6h0M623.1 329.9h0M623.3 323.4h0M623.1 298.5h0M623.2 316.9h0M624.4 245.8h0M624.6 331.4h0M624.1 331.4h0M624.4 244.7h0M624.1 275.2h0M624.3 325.7h0M624.8 330.6h0M624.6 310.4h0M625.2 309.5h0M625.0 280.2h0M625.0 286.8h0M625.1 328.7h0M626.0 308.9h0M625.7 256.1h0M626.0 293.0h0M625.6 307.5h0M626.1 277.5h0M626.0 271.7h0M626.7 263.5h0M626.6 286.5h0M626.7 316.3h0M626.5 330.1h0M626.8 271.4h0M626.4 287.7h0M627.4 307.2h0M627.3 288.8h0M627.7 283.4h0M627.5 325.0h0M627.3 272.5h0M627.8 301.3h0M628.2 331.5h0M628.4 325.8h0M628.2 255.2h0M628.3 329.0h0M628.4 296.8h0M628.3 299.4h0M629.0 265.9h0M629.4 307.0h0M629.1 322.0h0M629.2 308.5h0M629.4 327.1h0M628.6 311.5h0M629.7 315.4h0M629.7 330.2h0M630.0 303.1h0M629.6 309.1h0M630.0 319.1h0M629.8 246.1h0M630.8 317.5h0M630.4 302.7h0M630.8 323.6h0M630.7 256.0h0M630.6 295.1h0M631.0 317.0h0M631.5 303.5h0M631.7 248.8h0M631.2 291.7h0M631.1 282.8h0M631.3 246.7h0M631.2 244.4h0M632.0 298.3h0M631.9 292.9h0M632.4 326.5h0M632.0 307.7h0M632.2 305.8h0M632.3 292.6h0M632.9 259.7h0M633.3 219.4h0M633.3 323.0h0M633.2 223.0h0M633.3 317.6h0M632.6 263.3h0M634.2 323.5h0M633.6 255.3h0M633.5 318.7h0M634.0 307.6h0M633.5 295.7h0M634.0 216.5h0M634.9 311.6h0M634.8 257.6h0M634.9 248.5h0M634.9 229.4h0M634.8 308.9h0M634.8 268.9h0M635.7 279.6h0M635.2 262.6h0M635.1 305.1h0M635.0 271.9h0M635.1 275.6h0M635.4 272.1h0M636.5 264.8h0M636.5 324.1h0M636.3 275.5h0M636.5 244.6h0M636.1 288.5h0M635.9 191.0h0M637.1 252.0h0M637.1 324.2h0M637.3 244.6h0M637.4 296.0h0M637.0 271.5h0M636.6 207.0h0M637.9 241.8h0M638.1 296.7h0M637.8 293.3h0M638.0 271.7h0M637.7 311.0h0M637.8 286.0h0M638.4 227.3h0M638.5 227.1h0M638.4 277.7h0M639.0 277.4h0M638.8 255.4h0M638.5 300.2h0M639.5 306.7h0M639.6 262.0h0M639.6 329.2h0M639.4 221.2h0M639.2 328.7h0M639.2 330.6h0M640.3 219.2h0M640.4 262.3h0M640.3 221.2h0M640.3 268.5h0M640.3 256.4h0M640.0 258.8h0M641.0 267.5h0M640.7 253.2h0M640.6 325.8h0M641.3 251.4h0M640.9 269.2h0M641.2 243.8h0M641.6 289.6h0M641.7 319.0h0M641.7 317.4h0M642.1 279.2h0M641.9 338.3h0M641.5 339.0h0M642.7 265.6h0M642.6 250.7h0M642.5 343.1h0M643.0 293.3h0M642.6 241.7h0M642.3 313.2h0M643.2 292.2h0M643.0 339.4h0M643.5 346.5h0M643.8 341.3h0M643.7 343.2h0M643.0 340.9h0M644.0 287.7h0M643.9 286.0h0M644.4 348.3h0M644.5 288.4h0M643.9 286.5h0M644.4 298.4h0M645.3 320.5h0M645.4 338.8h0M644.6 292.5h0M645.1 352.7h0M644.7 280.4h0M645.2 334.2h0M646.1 347.3h0M645.4 321.0h0M645.9 332.0h0M645.9 325.6h0M646.0 348.6h0M645.9 332.4h0M646.5 309.9h0M646.8 333.0h0M646.8 274.2h0M646.4 316.2h0M647.0 354.6h0M646.9 302.1h0M647.5 339.8h0M647.7 275.5h0M647.2 316.2h0M647.7 332.0h0M647.5 336.3h0M647.7 316.1h0M648.0 299.2h0M648.0 359.5h0M648.3 335.2h0M648.5 298.3h0M648.5 358.5h0M648.5 298.8h0M648.8 325.6h0M649.2 299.2h0M649.3 315.5h0M648.7 343.5h0M649.2 327.2h0M649.2 352.9h0M649.6 295.9h0M649.9 326.0h0M649.6 337.4h0M650.0 351.8h0M649.8 309.5h0M650.0 360.2h0M650.4 314.5h0M650.9 330.9h0M650.6 304.0h0M650.7 338.9h0M650.4 357.3h0M650.8 357.7h0M651.5 349.4h0M651.4 346.7h0M651.0 361.3h0M651.3 297.0h0M651.5 363.2h0M651.1 316.5h0M652.1 335.5h0M651.8 341.3h0M652.6 367.8h0M652.2 313.0h0M652.0 337.8h0M652.1 320.6h0M653.2 319.3h0M653.4 328.7h0M652.6 362.1h0M652.7 364.3h0M652.6 368.4h0M653.3 345.9h0M654.2 357.8h0M653.5 335.1h0M653.7 351.4h0M654.2 369.6h0M653.9 365.5h0M654.2 349.4h0M654.5 356.1h0M654.3 363.6h0M655.0 344.5h0M654.2 369.8h0M654.5 369.0h0M654.9 347.1h0M655.0 351.8h0M655.6 353.7h0M655.8 358.9h0M655.1 374.6h0M655.8 354.9h0M655.2 357.8h0M656.4 362.7h0M656.1 375.6h0M655.9 372.5h0M655.9 366.2h0M655.9 372.9h0M655.8 359.7h0M656.8 360.2h0M657.3 378.1h0M657.3 374.9h0M657.3 354.6h0M657.0 376.5h0M657.3 377.2h0M657.9 357.2h0M657.7 369.5h0M657.8 357.9h0M657.5 364.3h0M657.4 375.1h0M657.8 361.6h0M658.9 376.6h0M658.5 374.4h0M658.4 376.5h0M658.5 359.0h0M658.6 376.3h0M658.9 373.3h0M659.8 376.9h0M659.7 377.6h0M659.2 365.3h0M659.2 370.1h0M659.2 374.7h0M659.8 372.6h0M660.5 357.9h0M660.0 376.8h0M659.8 360.6h0M660.0 364.9h0M659.8 358.4h0M660.1 362.9h0M660.6 375.9h0M661.0 363.8h0M660.9 375.4h0M660.8 362.0h0M660.7 369.2h0M661.2 375.5h0M661.6 366.7h0M661.5 376.0h0M661.8 368.6h0M661.6 373.9h0M662.0 368.5h0M661.9 364.7h0M662.3 374.0h0M662.5 364.0h0M662.2 364.3h0M662.5 362.2h0M662.9 361.4h0M662.2 369.1h0M663.4 356.9h0M663.2 358.0h0M663.7 373.5h0M663.1 370.3h0M663.5 370.2h0M663.4 375.5h0M664.2 367.1h0M664.4 373.5h0M664.5 356.9h0M664.4 369.9h0M664.4 368.6h0M664.5 374.2h0M665.0 349.5h0M665.0 363.4h0M664.6 362.7h0M664.8 349.0h0M664.7 371.1h0M665.3 369.8h0M665.5 372.1h0M665.6 355.5h0M665.9 372.2h0M665.8 359.5h0M665.5 355.4h0M666.0 349.6h0M666.3 370.7h0M666.6 360.0h0M666.3 366.1h0M666.3 362.7h0M666.9 356.8h0M666.7 369.0h0M667.1 348.8h0M667.8 345.6h0M667.3 361.4h0M667.4 345.1h0M667.8 361.2h0M667.3 347.6h0M668.1 364.0h0M668.6 358.1h0M668.5 343.8h0M668.5 343.4h0M668.2 368.0h0M668.5 337.0h0M668.9 362.0h0M668.9 347.4h0M668.7 351.7h0M669.0 355.6h0M668.7 367.3h0M669.2 331.0h0M669.9 325.3h0M670.1 332.9h0M669.4 328.4h0M669.6 342.1h0M669.6 340.2h0M670.1 347.2h0M670.4 338.5h0M670.5 344.4h0M670.4 316.8h0M670.7 355.3h0M670.7 362.5h0M670.6 316.5h0M671.4 354.7h0M671.1 339.6h0M671.1 360.8h0M671.3 353.4h0M671.2 353.7h0M671.4 362.0h0M672.3 311.5h0M672.3 333.0h0M672.4 355.9h0M672.2 340.7h0M672.2 329.8h0M672.0 350.1h0M673.0 352.9h0M673.1 342.8h0M672.9 361.5h0M672.8 302.8h0M673.0 329.8h0M673.4 349.2h0M674.0 346.1h0M673.5 354.5h0M673.8 295.1h0M673.7 358.9h0M674.0 335.4h0M673.6 357.0h0M674.8 278.0h0M674.5 353.1h0M674.7 339.4h0M674.9 315.6h0M674.6 293.9h0M674.8 302.9h0M675.4 294.9h0M675.6 291.9h0M675.1 276.0h0M675.0 281.5h0M675.5 294.2h0M675.8 323.2h0M676.1 315.2h0M676.5 292.0h0M676.1 311.5h0M676.2 326.9h0M676.0 298.9h0M676.2 332.5h0M676.9 333.1h0M677.3 293.5h0M677.0 322.9h0M676.8 347.8h0M677.1 350.1h0M676.7 315.1h0M677.7 281.0h0M678.1 289.5h0M677.6 276.6h0M678.1 329.7h0M677.4 354.6h0M677.8 317.5h0M678.8 283.8h0M679.0 321.3h0M678.6 323.1h0M678.5 307.9h0M678.7 335.9h0M679.0 336.4h0M679.4 310.7h0M679.3 352.2h0M679.4 333.8h0M679.7 319.9h0M679.4 282.1h0M679.5 330.8h0M680.1 281.9h0M680.5 325.1h0M680.1 349.4h0M680.5 283.7h0M679.9 326.5h0M680.4 292.2h0M681.4 300.9h0M680.9 294.4h0M680.8 350.6h0M681.0 327.6h0M680.7 349.0h0M681.1 317.9h0M682.2 339.8h0M681.4 318.4h0M682.0 335.8h0M682.0 342.8h0M681.6 356.4h0M681.9 300.2h0M682.4 316.8h0M682.6 330.3h0M682.7 345.8h0M683.0 327.8h0M682.5 324.5h0M682.3 353.2h0M683.1 310.2h0M683.1 354.5h0M683.7 329.4h0M683.6 322.4h0M683.0 355.8h0M683.3 309.2h0M684.1 315.1h0M684.0 352.0h0M684.5 355.0h0M684.1 325.8h0M684.1 335.4h0M684.5 356.5h0M685.4 326.7h0M685.1 336.9h0M684.6 348.5h0M685.3 297.7h0M685.3 344.8h0M684.8 307.8h0M686.2 326.2h0M686.2 333.9h0M685.7 349.4h0M685.6 317.2h0M686.1 345.8h0M686.0 334.7h0M686.3 350.0h0M686.3 343.6h0M686.4 297.0h0M686.3 330.2h0M686.5 332.1h0M686.3 340.8h0M687.7 355.8h0M687.2 344.6h0M687.2 353.0h0M687.0 350.8h0M687.3 323.6h0M687.6 354.5h0M688.0 357.0h0M687.9 311.4h0M688.5 339.5h0M687.9 313.8h0M688.4 344.9h0M688.6 343.5h0M689.4 352.5h0M688.8 336.1h0M688.7 339.4h0M688.8 322.3h0M689.1 307.5h0M688.8 344.4h0M689.6 330.1h0M689.5 311.0h0M689.8 336.2h0M690.0 349.8h0M689.9 343.8h0M689.6 332.7h0M690.3 343.9h0M690.9 354.1h0M690.7 347.5h0M690.6 356.5h0M690.6 345.5h0M690.3 348.7h0M691.2 348.3h0M691.6 356.0h0M691.3 349.7h0M691.6 310.9h0M691.7 312.9h0M691.2 355.8h0M692.3 358.6h0M692.1 328.9h0M692.3 343.6h0M692.0 326.7h0M692.1 316.7h0M691.9 331.1h0M693.3 356.5h0M693.2 325.4h0M692.6 358.4h0M692.8 354.9h0M692.9 349.2h0M692.8 358.4h0M693.5 332.2h0M693.9 319.7h0M693.6 327.5h0M693.9 343.3h0M693.4 347.5h0M694.0 320.0h0M694.2 350.4h0M694.7 318.6h0M694.4 358.5h0M694.8 356.9h0M694.9 353.5h0M694.3 325.4h0M695.3 325.9h0M695.7 322.2h0M695.1 350.7h0M695.3 307.3h0M695.6 308.5h0M695.7 322.8h0M696.2 328.1h0M696.4 360.4h0M696.2 342.0h0M695.9 303.8h0M695.8 317.7h0M696.4 322.4h0M697.0 351.8h0M697.1 294.9h0M696.8 332.5h0M696.9 361.3h0M696.8 342.2h0M696.7 348.9h0M697.9 315.8h0M697.6 352.9h0M697.8 332.8h0M697.7 293.1h0M698.1 349.0h0M697.9 358.2h0M698.9 345.9h0M698.8 327.9h0M698.7 356.8h0M698.6 323.2h0M698.9 306.5h0M698.4 359.7h0M699.2 343.1h0M699.2 362.5h0M699.6 355.2h0M699.1 335.6h0M699.4 346.0h0M699.1 342.9h0M699.8 362.5h0M700.4 274.2h0M700.4 361.9h0M700.3 275.7h0M700.2 360.7h0M700.0 336.3h0M700.6 324.8h0M701.1 280.7h0M701.3 315.7h0M700.8 313.0h0M700.7 351.9h0M701.2 364.7h0M701.6 288.3h0M701.9 355.0h0M702.1 287.5h0M702.0 356.2h0M702.0 289.5h0M701.5 343.9h0M702.5 287.2h0M702.6 337.4h0M702.9 337.4h0M702.2 348.3h0M702.7 317.6h0M702.8 287.9h0M703.8 274.0h0M703.4 322.4h0M703.2 351.4h0M703.1 313.2h0M703.1 301.1h0M703.8 327.6h0M703.8 352.4h0M704.0 324.9h0M703.8 293.9h0M704.5 279.4h0M704.1 286.1h0M704.3 339.1h0M704.9 313.7h0M705.0 330.5h0M705.3 297.2h0M704.7 268.1h0M705.0 334.2h0M704.9 308.6h0M705.5 337.9h0M705.8 328.0h0M706.1 256.3h0M706.2 269.9h0M705.9 257.6h0M705.4 276.7h0M706.7 288.6h0M706.7 326.2h0M706.6 254.8h0M706.4 291.9h0M706.9 322.3h0M706.4 342.9h0M707.4 284.0h0M707.5 336.5h0M707.5 315.6h0M707.4 311.5h0M707.3 296.6h0M707.1 334.9h0M708.2 253.8h0M708.5 331.0h0M707.9 321.4h0M708.0 295.9h0M708.2 300.1h0M708.3 323.5h0M709.0 327.7h0M708.7 285.9h0M708.7 304.5h0M709.3 301.5h0M709.2 290.0h0M708.7 266.3h0M710.0 231.5h0M710.1 325.4h0M709.5 302.7h0M709.9 235.7h0M709.5 260.0h0M709.4 259.8h0M710.5 313.2h0M710.7 326.3h0M710.4 315.0h0M710.5 264.4h0M710.7 241.0h0M710.7 243.2h0M711.7 232.7h0M711.6 315.9h0M711.6 301.4h0M711.7 264.1h0M711.3 318.9h0M711.8 256.9h0M711.8 255.4h0M711.9 270.3h0M712.4 276.8h0M712.5 317.7h0M712.0 261.4h0M712.2 312.1h0M713.1 235.8h0M712.6 315.9h0M713.2 316.1h0M713.0 310.8h0M713.1 301.8h0M712.7 292.8h0M713.8 226.3h0M714.0 252.8h0M713.4 215.2h0M713.5 294.4h0M714.1 276.7h0M713.4 237.3h0M714.9 307.2h0M714.5 250.8h0M714.3 277.1h0M714.5 226.8h0M714.7 222.6h0M714.5 314.7h0M715.7 302.3h0M715.0 259.8h0M715.3 306.3h0M715.5 275.4h0M715.3 284.8h0M715.5 316.0h0M715.8 288.0h0M716.6 273.5h0M715.9 312.3h0M716.0 245.3h0M716.2 294.3h0M716.3 295.4h0M717.4 261.7h0M716.6 191.2h0M717.2 257.4h0M717.2 211.0h0M717.1 247.3h0M716.8 282.0h0M718.1 219.6h0M717.9 196.3h0M718.0 285.8h0M717.8 228.3h0M717.7 243.8h0M717.7 255.6h0M718.5 303.8h0M719.0 280.7h0M718.5 261.5h0M718.4 289.1h0M718.3 277.7h0M718.9 306.2h0M719.4 261.9h0M719.2 246.3h0M719.1 293.0h0M719.2 279.9h0M719.4 223.0h0M719.3 188.5h0M720.3 187.5h0M719.9 296.8h0M720.6 241.3h0M720.4 270.6h0M720.5 261.9h0M720.2 297.6h0M720.8 188.8h0M720.6 278.7h0M720.8 287.6h0M720.8 220.3h0M720.8 262.7h0M721.3 235.5h0M721.6 226.2h0M722.2 213.1h0M721.5 233.1h0M722.1 201.1h0M721.5 266.8h0M721.8 282.6h0M722.7 187.8h0M722.4 179.8h0M722.8 265.9h0M722.5 223.5h0M722.5 219.0h0M722.5 289.8h0M723.5 289.5h0M723.4 263.7h0M723.2 229.3h0M723.0 247.8h0M723.5 177.1h0M723.0 166.2h0M724.4 225.2h0M723.9 263.1h0M723.9 280.6h0M723.9 201.4h0M724.1 193.7h0M724.3 236.1h0M725.1 234.0h0M724.9 227.3h0M724.8 206.0h0M725.2 210.7h0M724.8 200.4h0M725.4 201.0h0M725.6 249.4h0M726.2 240.4h0M725.4 282.2h0M725.9 246.5h0M725.7 204.7h0M725.6 170.0h0M726.3 211.2h0M726.3 288.0h0M726.6 286.5h0M726.3 238.5h0M726.5 183.8h0M726.3 280.7h0M727.7 218.4h0M727.0 281.7h0M727.2 212.8h0M727.4 182.9h0M727.3 231.9h0M727.4 209.7h0M728.5 271.9h0M728.4 289.4h0M728.3 291.8h0M728.5 264.1h0M728.3 292.1h0M728.5 263.2h0M729.1 200.3h0M728.8 285.0h0M728.9 281.8h0M728.8 284.4h0M729.1 226.1h0M729.4 278.6h0M729.9 289.7h0M730.1 294.1h0M729.6 216.7h0M730.1 232.4h0M729.7 284.2h0M730.1 264.2h0M730.7 297.8h0M730.6 256.4h0M730.9 258.6h0M730.9 294.3h0M730.8 281.4h0M730.3 223.3h0M731.8 228.9h0M731.0 291.4h0M731.8 305.0h0M731.7 309.4h0M731.6 302.5h0M731.1 305.7h0M731.9 257.0h0M732.5 292.6h0M732.5 253.0h0M731.8 219.5h0M732.4 301.3h0M731.8 256.2h0M732.8 282.0h0M732.7 289.4h0M733.4 318.5h0M733.3 299.7h0M733.0 314.0h0M732.9 313.0h0M733.9 315.3h0M734.0 317.3h0M733.5 287.8h0M733.8 301.7h0M733.7 239.6h0M734.2 312.8h0M734.8 250.2h0M734.3 313.9h0M734.3 314.5h0M734.6 328.0h0M734.6 302.3h0M734.2 306.4h0M735.5 279.3h0M735.4 294.8h0M735.8 279.1h0M735.6 257.3h0M735.3 308.8h0M735.8 307.0h0M736.1 315.6h0M735.9 313.5h0M735.8 247.7h0M736.5 293.9h0M736.3 326.4h0M736.0 316.4h0M736.7 336.1h0M737.2 273.8h0M736.6 265.8h0M736.9 290.9h0M737.0 296.1h0M737.4 327.4h0M738.0 351.0h0M737.8 279.4h0M738.2 308.1h0M737.9 339.3h0M737.7 292.0h0M737.7 295.4h0M738.7 320.8h0M738.5 305.7h0M738.6 310.7h0M738.7 345.8h0M738.9 342.8h0M738.8 325.7h0M739.4 327.6h0M739.1 352.0h0M739.4 284.6h0M739.4 327.5h0M739.2 297.7h0M739.7 355.1h0M740.3 339.7h0M740.5 303.0h0M739.8 298.5h0M740.5 346.4h0M739.9 304.1h0M740.0 362.3h0M740.9 371.1h0M741.0 312.6h0M740.7 346.8h0M741.4 351.6h0M741.0 323.9h0M741.2 344.6h0M741.5 328.2h0M741.7 335.3h0M741.6 348.6h0M741.7 359.8h0M741.4 359.0h0M741.9 370.3h0M742.3 380.3h0M742.4 343.0h0M742.4 368.8h0M742.3 334.0h0M742.9 349.0h0M742.5 375.0h0M743.5 349.5h0M743.0 372.6h0M743.3 369.2h0M743.2 354.4h0M743.5 370.9h0M743.3 348.3h0M744.3 372.3h0M744.0 342.6h0M744.4 339.7h0M744.3 372.8h0M743.9 374.7h0M744.1 352.9h0M745.0 366.2h0M745.2 345.8h0M745.1 384.0h0M745.0 369.1h0M744.9 349.4h0M745.3 368.6h0M745.8 370.5h0M746.1 367.4h0M746.0 359.8h0M745.4 372.1h0M745.8 359.3h0M746.0 354.7h0M746.4 381.5h0M746.9 382.4h0M746.3 381.9h0M746.7 356.8h0M746.7 382.8h0M746.6 358.9h0M747.6 382.5h0M747.5 372.1h0M747.7 345.9h0M747.1 352.3h0M747.4 375.1h0M747.8 383.1h0M748.0 377.0h0M748.0 375.8h0M748.2 354.1h0M748.1 368.9h0M748.0 382.3h0M748.4 353.7h0M748.8 352.6h0M748.6 378.5h0M748.9 366.9h0M749.0 369.8h0M748.9 365.0h0M748.8 355.2h0M749.8 347.7h0M749.7 381.5h0M749.7 366.1h0M749.7 364.7h0M750.0 375.8h0M750.0 375.2h0M750.7 352.2h0M750.9 368.4h0M750.9 368.8h0M750.5 381.0h0M750.2 360.2h0M750.3 349.0h0M751.1 360.9h0M751.4 344.0h0M751.4 350.7h0M751.5 357.2h0M751.2 373.5h0M751.1 348.6h0M752.0 342.5h0M751.9 378.6h0M752.6 349.9h0M752.3 367.8h0M752.5 373.9h0M751.9 355.1h0M753.2 378.8h0M753.3 379.0h0M752.8 371.7h0M752.9 359.0h0M752.7 360.1h0M752.9 341.0h0M753.5 343.5h0M754.2 345.9h0M753.4 366.7h0M753.9 367.2h0M753.8 373.3h0M753.8 377.2h0M754.5 348.5h0M754.3 351.2h0M754.3 342.6h0M755.0 336.8h0M754.6 335.8h0M754.5 369.9h0M755.4 345.7h0M755.1 334.6h0M755.7 360.2h0M755.4 354.3h0M755.1 375.8h0M755.7 369.8h0M756.0 338.2h0M755.8 333.1h0M756.6 352.9h0M756.6 365.7h0M755.8 349.7h0M756.2 366.2h0M757.2 368.9h0M757.2 371.4h0M756.7 366.8h0M756.7 353.8h0M757.2 354.3h0M757.0 351.8h0M757.8 374.7h0M757.9 373.2h0M757.9 372.2h0M757.7 363.3h0M757.5 346.5h0M758.2 370.9h0M758.9 363.3h0M758.6 331.3h0M758.3 370.8h0M758.3 330.9h0M758.6 354.9h0M758.6 371.8h0M759.4 369.5h0M759.3 353.1h0M759.3 368.2h0M759.1 368.0h0M759.7 366.5h0M759.7 353.4h0M760.6 372.4h0M760.4 352.7h0M760.4 347.8h0M760.4 365.7h0M760.0 368.6h0M760.1 372.2h0M760.8 349.2h0M760.7 324.3h0M760.8 345.5h0M761.2 344.5h0M760.6 337.0h0M761.1 363.3h0M761.4 315.2h0M762.0 341.2h0M761.7 327.8h0M761.8 328.1h0M761.4 320.0h0M761.7 318.5h0M762.3 352.0h0M762.8 360.1h0M762.3 335.3h0M762.3 355.3h0M762.4 362.2h0M763.0 356.0h0M763.6 309.7h0M763.4 346.1h0M763.7 326.3h0M763.5 328.3h0M763.5 360.5h0M763.6 321.4h0M764.4 362.9h0M763.9 351.7h0M764.3 310.1h0M763.9 326.7h0M764.5 320.7h0M764.4 314.9h0M765.2 318.3h0M764.9 335.5h0M765.2 318.9h0M764.8 315.4h0M765.0 308.3h0M764.7 309.5h0M766.0 305.5h0M766.1 353.3h0M765.6 354.3h0M765.6 342.1h0M766.1 340.0h0M766.0 327.1h0M766.8 344.3h0M766.7 317.2h0M766.9 305.5h0M766.3 343.5h0M766.9 327.6h0M766.7 347.2h0M767.6 312.1h0M767.4 359.8h0M767.1 359.6h0M767.3 314.0h0M767.4 329.5h0M767.2 346.5h0M768.5 345.0h0M768.0 327.4h0M768.0 357.7h0M768.2 321.2h0M768.4 324.3h0M768.3 356.5h0M769.3 359.1h0M768.8 353.7h0M768.9 298.0h0M769.3 351.7h0M769.3 326.9h0M769.0 342.0h0M769.8 298.0h0M769.6 295.1h0M769.5 309.1h0M769.4 333.0h0M770.2 354.1h0M770.0 338.0h0M770.5 350.4h0M770.6 357.2h0M770.6 306.8h0M770.9 343.2h0M770.7 304.0h0M770.7 358.1h0M771.8 339.1h0M771.5 344.3h0M771.3 325.8h0M771.5 333.8h0M771.4 303.3h0M771.8 344.1h0M772.5 358.7h0M772.2 322.2h0M772.4 339.0h0M772.4 305.2h0M771.8 316.9h0M771.9 346.5h0M773.3 300.3h0M773.1 355.6h0M772.6 330.4h0M773.2 342.7h0M772.8 325.7h0M772.8 316.3h0M773.7 332.9h0M773.9 298.6h0M773.9 313.3h0M774.2 343.6h0M774.0 320.8h0M773.5 349.4h0M774.9 331.0h0M774.5 314.6h0M774.6 355.9h0M774.3 307.7h0M774.3 318.9h0M774.2 347.6h0M775.3 348.5h0M775.8 300.6h0M775.2 354.0h0M775.2 302.6h0M775.4 347.3h0M775.2 357.2h0M776.1 343.2h0M776.0 301.4h0M776.5 353.3h0M776.5 339.8h0M776.4 327.1h0M775.9 347.7h0M777.0 317.7h0M777.1 332.1h0M776.8 318.0h0M777.3 344.5h0M776.8 334.1h0M776.8 327.1h0M777.4 316.1h0M777.9 311.8h0M778.2 344.5h0M777.6 349.2h0M777.8 357.3h0M777.9 317.5h0M778.8 340.5h0M778.4 355.4h0M779.0 325.1h0M778.8 325.9h0M778.5 315.4h0M778.8 302.0h0M779.3 344.3h0M779.3 312.5h0M779.7 352.1h0M779.4 332.6h0M779.7 322.9h0M779.3 354.3h0M780.1 356.5h0M780.5 334.3h0M780.3 322.8h0M780.3 340.5h0M780.5 347.8h0M780.5 313.6h0M781.1 353.5h0M781.0 315.9h0M781.3 304.3h0M781.3 316.8h0M781.3 323.9h0M781.2 354.2h0M781.9 319.5h0M781.5 347.5h0M782.1 326.9h0M781.6 347.6h0M781.5 350.1h0M782.2 321.6h0M782.5 312.3h0M782.3 320.3h0M782.5 309.4h0M782.7 357.8h0M782.4 353.9h0M782.6 356.6h0M783.6 331.2h0M783.7 357.1h0M783.2 355.0h0M783.3 326.1h0M783.5 344.9h0M783.6 350.6h0M784.5 351.1h0M784.2 313.8h0M784.4 357.3h0M784.2 357.3h0M783.9 339.9h0M784.4 326.8h0M784.9 330.5h0M785.1 335.1h0M785.3 350.5h0M785.2 300.4h0M784.9 303.2h0M784.7 301.2h0M785.5 337.6h0M785.9 339.0h0M785.8 323.0h0M785.6 345.1h0M785.6 341.9h0M786.0 352.0h0M786.6 335.9h0M786.8 351.9h0M786.4 352.0h0M786.8 333.3h0M786.8 304.9h0M786.9 306.8h0M787.6 323.7h0M787.2 356.4h0M787.7 357.4h0M787.5 323.8h0M787.3 349.3h0M787.5 353.3h0M788.0 307.0h0M787.9 357.4h0M788.5 345.9h0M788.2 319.9h0M787.9 355.9h0M788.4 354.3h0M789.4 342.9h0M789.2 316.7h0M789.3 342.6h0M788.7 357.3h0M789.0 338.0h0M788.8 354.6h0M790.1 362.0h0M790.2 332.9h0M789.7 316.2h0M789.7 331.6h0M790.1 326.9h0M789.4 359.3h0M790.7 358.8h0M790.2 352.4h0M790.8 329.5h0M790.2 348.7h0M790.6 326.0h0M790.5 362.8h0M791.7 343.8h0M791.5 350.3h0M791.2 361.0h0M791.3 329.0h0M791.5 363.8h0M791.2 363.2h0M792.3 354.0h0M792.4 346.3h0M791.9 354.7h0M791.8 342.1h0M792.1 353.5h0M792.4 344.6h0M793.1 363.8h0M793.0 346.9h0M793.3 366.4h0M792.7 350.9h0M793.4 363.9h0M792.9 364.2h0M794.1 346.0h0M794.0 352.4h0M793.5 370.1h0M794.0 337.5h0M793.4 370.1h0M794.1 365.8h0M794.7 368.3h0M794.7 343.7h0M794.4 344.1h0M794.2 369.8h0M794.3 350.8h0M794.8 341.8h0M795.6 370.2h0M795.4 370.7h0M795.6 371.8h0M795.7 347.7h0M795.7 373.0h0M795.7 359.9h0M796.3 362.1h0M796.4 359.2h0M795.8 372.5h0M796.0 360.8h0M795.8 365.3h0M795.8 353.9h0M797.2 351.4h0M796.7 364.0h0M796.8 357.9h0M796.7 364.8h0M797.0 345.7h0M796.7 366.9h0M798.1 355.7h0M797.5 351.4h0M797.6 366.9h0M797.5 354.5h0M798.2 359.9h0M797.4 354.3h0M798.3 373.5h0M798.7 357.6h0M798.6 363.1h0M798.7 366.3h0M798.9 359.0h0M798.8 356.2h0M799.7 350.5h0M799.0 357.4h0M799.7 358.6h0M799.7 366.1h0M799.8 372.0h0M799.6 365.8h0M800.0 370.9h0M800.1 368.7h0M800.2 373.8h0M800.3 348.7h0M800.4 350.5h0M800.6 353.9h0M800.8 357.4h0M800.9 371.3h0M800.8 375.0h0M801.3 352.9h0M801.2 369.6h0M801.3 356.7h0M801.8 356.7h0M802.1 374.3h0M801.9 370.3h0M801.8 369.1h0M801.5 350.8h0M801.9 364.8h0M803.0 365.2h0M802.9 368.6h0M803.0 360.7h0M802.4 375.0h0M802.9 371.5h0M802.4 375.8h0M803.8 360.6h0M803.4 374.3h0M803.6 361.5h0M803.6 359.7h0M803.2 372.9h0M803.6 376.3h0M804.0 374.3h0M804.3 353.2h0M804.3 365.1h0M804.4 364.9h0M803.9 372.3h0M803.8 376.5h0M804.7 370.3h0M805.0 375.3h0M805.2 351.8h0M805.2 372.3h0M804.7 374.2h0M804.9 371.6h0M805.8 359.6h0M805.5 358.3h0M805.7 351.2h0M805.4 354.7h0M805.6 354.9h0M806.0 353.9h0M806.4 358.6h0M806.4 374.5h0M806.3 350.3h0M806.7 359.0h0M806.3 358.9h0M806.3 372.7h0M807.3 345.3h0M807.5 357.7h0M807.1 370.0h0M807.7 373.5h0M807.8 371.9h0M807.6 366.5h0M808.4 370.7h0M808.1 368.3h0M807.9 360.5h0M808.4 368.3h0M808.1 367.4h0M808.0 352.0h0M808.8 368.5h0M808.9 363.5h0M809.0 355.0h0M808.6 346.1h0M809.3 354.1h0M808.6 367.6h0M809.5 360.6h0M810.0 359.8h0M809.5 369.5h0M809.5 359.2h0M809.8 366.6h0M809.5 369.1h0M810.6 361.7h0M810.6 339.4h0M810.4 368.9h0M810.7 347.8h0M811.0 342.4h0M810.3 342.9h0M811.4 337.2h0M811.1 364.1h0M811.2 340.8h0M811.2 367.7h0M811.4 338.1h0M811.1 346.7h0M812.1 356.1h0M812.3 363.9h0M811.9 359.3h0M812.2 333.3h0M811.8 364.6h0M812.2 348.3h0M813.0 366.6h0M813.0 342.9h0M813.0 362.1h0M813.1 348.8h0M813.2 364.4h0M813.2 333.2h0M813.7 335.4h0M813.5 333.2h0M813.9 361.2h0M813.5 333.2h0M813.4 361.5h0M813.5 354.0h0M814.8 361.6h0M815.0 345.8h0M814.7 353.9h0M815.0 365.7h0M814.6 360.2h0M815.0 349.2h0M815.8 348.1h0M815.2 341.4h0M815.2 329.1h0M815.4 318.6h0M815.8 359.7h0M815.3 355.9h0M816.3 353.8h0M816.1 365.1h0M816.5 361.3h0M816.3 365.3h0M816.2 357.6h0M816.4 342.3h0M816.8 361.6h0M817.4 362.2h0M816.7 361.2h0M817.1 342.5h0M816.6 317.7h0M816.7 357.8h0M817.8 336.2h0M818.1 347.5h0M818.1 330.8h0M817.6 307.8h0M817.7 309.1h0M818.1 363.9h0M818.2 361.9h0M818.4 353.2h0M818.9 302.4h0M818.6 345.3h0M818.8 312.8h0M818.6 328.7h0M819.2 361.0h0M819.5 325.6h0M819.7 313.3h0M819.2 298.3h0M819.7 362.6h0M819.1 332.6h0M820.0 319.8h0M820.1 354.3h0M820.3 334.1h0M820.4 362.3h0M820.2 325.8h0M820.4 321.6h0M821.0 363.9h0M821.2 318.2h0M820.7 321.0h0M821.2 289.6h0M820.9 353.7h0M820.8 289.7h0M822.2 339.9h0M821.6 291.7h0M821.7 309.5h0M822.0 316.8h0M821.6 359.1h0M821.6 354.1h0M822.3 362.7h0M822.5 338.6h0M822.7 361.1h0M822.7 282.5h0M822.8 342.9h0M822.3 335.9h0M823.0 331.4h0M823.1 311.7h0M823.8 341.4h0M823.7 301.7h0M823.5 315.3h0M823.8 308.6h0M824.4 355.7h0M824.0 348.3h0M824.3 298.0h0M824.5 294.8h0M824.0 322.8h0M824.2 364.4h0M824.8 311.0h0M824.6 363.5h0M825.2 358.2h0M824.8 365.5h0M825.2 352.2h0M824.6 281.5h0M826.1 362.4h0M825.5 286.7h0M825.8 348.4h0M825.7 349.5h0M825.6 336.7h0M825.5 365.0h0M826.3 360.9h0M826.8 325.4h0M826.8 354.8h0M826.5 315.3h0M826.4 337.3h0M826.6 294.3h0M827.1 366.9h0M827.3 321.1h0M827.2 318.8h0M827.6 310.9h0M827.5 365.2h0M827.6 360.4h0M828.4 312.8h0M827.9 359.1h0M828.3 326.0h0M828.0 364.2h0M827.9 333.2h0M828.0 328.7h0M828.9 358.7h0M829.2 339.2h0M829.2 369.2h0M828.8 360.9h0M829.2 330.2h0M829.3 332.4h0M829.6 362.9h0M829.6 330.4h0M829.6 365.3h0M830.1 320.9h0M830.2 325.8h0M829.6 318.8h0M830.8 357.8h0M830.7 370.3h0M830.2 369.2h0M830.3 344.4h0M830.9 309.2h0M830.4 348.2h0M831.4 369.0h0M831.3 346.1h0M831.4 331.4h0M831.1 326.6h0M831.3 370.8h0M831.2 348.7h0M832.0 337.9h0M832.2 360.7h0M832.4 334.7h0M832.2 357.7h0M832.5 317.4h0M831.9 341.6h0M833.1 354.3h0M832.6 364.0h0M833.3 317.0h0M833.0 370.4h0M832.8 343.9h0M833.2 372.3h0M833.7 336.3h0M833.7 372.2h0M834.2 371.9h0M833.6 373.1h0M833.5 336.5h0M833.5 371.6h0M834.6 370.2h0M834.3 335.3h0M834.8 369.8h0M834.5 359.0h0M834.4 371.5h0M834.3 325.9h0M835.6 367.4h0M835.7 335.0h0M835.8 358.2h0M835.2 351.6h0M835.6 358.6h0M835.1 344.4h0M836.6 370.4h0M836.5 372.8h0M836.0 365.4h0M836.2 368.4h0M835.9 333.0h0M836.1 340.8h0M837.2 371.6h0M836.8 366.4h0M837.3 363.6h0M837.1 343.8h0M837.2 374.8h0M837.3 355.9h0M837.7 343.2h0M838.1 348.0h0M837.7 369.8h0M837.7 366.5h0M837.5 366.4h0M838.1 370.8h0M838.7 366.7h0M838.8 349.8h0M838.9 371.2h0M839.0 353.1h0M838.8 356.0h0M838.4 352.8h0M839.3 361.1h0M839.1 355.1h0M839.3 364.6h0M839.3 355.7h0M839.7 355.0h0M839.1 353.7h0M840.4 355.0h0M840.3 362.6h0M840.5 375.6h0M840.2 366.0h0M840.4 370.9h0M840.5 359.7h0M840.9 373.8h0M840.7 373.2h0M840.6 371.8h0M840.8 360.5h0M840.7 375.8h0M840.8 362.0h0M841.7 369.8h0M842.2 361.7h0M841.9 372.8h0M841.8 359.2h0M842.0 359.0h0M842.1 372.8h0M842.3 368.3h0M842.9 368.0h0M842.6 369.5h0M842.9 371.5h0M842.4 366.2h0M842.5 372.6h0M843.6 360.4h0M843.7 376.7h0M843.5 377.5h0M843.6 372.0h0M843.1 372.1h0M843.7 370.3h0M844.1 365.8h0M844.4 376.1h0M844.0 365.5h0M844.6 363.7h0M844.1 372.8h0M844.5 367.5h0M844.8 376.9h0M845.2 375.2h0M845.0 377.1h0M845.1 372.5h0M845.4 377.6h0M845.0 362.6h0M845.5 368.2h0M845.8 366.0h0M846.1 368.9h0M846.1 375.5h0M845.4 377.4h0M846.1 373.4h0M847.0 367.6h0M846.9 374.1h0M846.3 373.4h0M846.8 372.3h0M846.7 375.4h0M846.4 377.4h0M847.4 376.2h0M847.1 375.6h0M847.3 380.0h0M847.6 372.0h0M847.2 378.3h0M847.1 375.0h0M848.5 374.8h0M848.3 379.2h0M848.4 373.2h0M848.4 373.3h0M848.5 378.6h0M847.8 370.1h0M849.0 371.3h0M848.7 380.6h0M849.1 373.3h0M849.0 380.2h0M849.4 375.3h0M849.2 378.6h0M849.6 380.1h0M849.7 380.6h0M849.6 376.6h0M849.6 380.6h0M849.6 381.0h0M849.8 379.5h0M850.6 378.8h0M851.0 376.3h0M851.0 375.8h0M850.4 376.0h0M850.3 374.5h0M850.3 378.9h0M851.8 369.1h0M851.3 373.8h0M851.3 373.4h0M851.3 369.3h0M851.7 376.7h0M851.0 371.2h0M852.4 361.9h0M852.3 371.6h0M852.1 360.3h0M852.0 370.3h0M852.3 368.1h0M852.6 364.4h0M852.9 372.1h0M853.2 357.3h0M853.1 363.8h0M853.4 369.0h0M852.9 364.8h0M852.7 371.6h0M854.0 351.4h0M853.7 371.2h0M853.8 363.1h0M854.1 365.7h0M853.8 366.0h0M853.9 350.4h0M854.5 359.9h0M854.7 362.3h0M854.4 350.5h0M854.5 362.7h0M854.9 362.9h0M854.4 358.2h0M855.7 360.9h0M855.6 364.9h0M855.2 367.0h0M855.6 366.6h0M855.2 365.1h0M855.2 366.6h0M856.4 344.1h0M856.6 336.7h0M856.5 351.0h0M856.5 363.9h0M856.0 355.0h0M856.5 343.5h0M856.7 353.6h0M857.2 333.7h0M857.4 345.8h0M856.6 362.5h0M856.6 361.0h0M857.1 341.1h0M857.5 359.0h0M857.9 357.3h0M858.2 338.8h0M858.2 351.6h0M857.7 348.9h0M857.6 355.2h0M859.0 318.3h0M858.3 332.9h0M858.3 354.7h0M858.8 348.9h0M858.6 357.7h0M858.2 334.1h0M859.6 341.5h0M859.4 334.8h0M859.5 317.5h0M859.3 346.0h0M859.7 313.7h0M859.4 315.4h0M859.9 350.3h0M860.4 340.4h0M860.4 353.5h0M860.2 317.7h0M860.4 353.5h0M860.3 338.9h0M861.2 326.3h0M861.4 335.5h0M861.3 300.0h0M860.9 323.5h0M860.8 337.2h0M861.2 303.8h0M862.1 306.5h0M862.0 290.6h0M862.0 336.8h0M861.9 339.6h0M862.1 344.1h0M861.6 327.0h0M862.3 289.8h0M862.8 289.2h0M862.8 341.7h0M862.9 317.2h0M862.5 316.3h0M862.3 288.9h0M863.1 296.4h0M863.1 332.5h0M863.4 288.2h0M863.2 300.7h0M863.5 300.3h0M863.4 341.0h0M864.0 295.8h0M864.0 301.6h0M864.5 323.2h0M864.6 275.3h0M864.3 319.4h0M864.4 288.0h0M865.3 313.3h0M865.4 317.4h0M864.7 312.0h0M864.7 288.1h0M864.6 294.5h0M865.0 264.2h0M865.5 283.6h0M865.7 293.5h0M866.1 324.5h0M865.8 335.2h0M866.1 333.2h0M865.4 267.9h0M866.6 304.6h0M866.8 280.5h0M866.9 314.5h0M866.3 325.3h0M866.3 270.4h0M866.6 325.3h0M867.1 314.2h0M867.4 256.8h0M867.2 272.7h0M867.2 258.8h0M867.5 259.5h0M867.6 252.1h0M868.2 287.7h0M868.2 264.4h0M868.5 328.4h0M868.3 269.8h0M868.0 276.2h0M868.5 303.2h0M869.3 251.5h0M869.1 324.5h0M868.9 294.2h0M868.7 324.0h0M869.0 301.8h0M868.9 317.7h0M870.0 293.5h0M869.5 290.1h0M869.7 259.3h0M870.2 251.0h0M869.9 324.8h0M869.7 250.1h0M870.5 293.3h0M870.4 328.8h0M870.4 324.9h0M870.7 285.5h0M870.7 251.5h0M871.0 309.1h0M871.4 284.2h0M871.5 260.3h0M871.5 308.5h0M871.8 313.0h0M871.8 316.9h0M871.0 326.8h0M872.0 291.2h0M871.9 295.3h0M872.3 262.4h0M872.5 278.5h0M872.3 244.8h0M871.8 275.5h0M872.9 325.8h0M872.9 246.7h0M872.6 289.0h0M873.3 302.5h0M873.3 287.0h0M872.8 326.9h0M874.1 318.4h0M874.1 322.5h0M874.1 312.7h0M873.7 292.8h0M873.7 246.1h0M873.5 275.4h0M875.0 260.5h0M874.8 320.9h0M874.3 311.3h0M874.7 304.4h0M875.0 246.8h0M874.7 242.2h0M875.1 277.8h0M875.4 270.5h0M875.7 303.7h0M875.1 311.2h0M875.1 317.2h0M875.6 284.0h0M876.2 315.8h0M876.2 284.3h0M876.2 298.3h0M875.8 321.9h0M876.0 297.5h0M876.0 266.4h0M876.8 255.8h0M877.0 316.5h0M876.9 297.3h0M876.8 262.1h0M877.3 271.8h0M877.0 291.9h0M877.9 239.5h0M877.5 308.1h0M877.7 313.3h0M877.9 313.0h0M877.6 290.2h0M878.1 282.4h0M878.3 300.1h0M878.5 295.7h0M878.8 235.7h0M878.3 285.6h0M878.3 311.1h0M878.7 243.0h0M879.5 302.0h0M879.4 307.0h0M879.1 289.3h0M879.6 249.8h0M879.1 273.8h0M879.3 257.7h0M879.9 253.9h0M879.8 226.0h0M880.1 293.9h0M879.9 295.6h0M880.6 251.1h0M880.0 285.4h0M880.8 248.2h0M881.2 275.6h0M880.7 272.8h0M881.0 299.2h0M881.3 209.5h0M881.0 297.8h0M881.6 263.0h0M881.8 243.6h0M881.6 227.2h0M882.1 211.4h0M881.5 264.5h0M881.5 263.5h0M882.8 237.0h0M883.0 249.2h0M882.8 293.1h0M882.3 223.1h0M882.2 274.4h0M882.8 248.7h0M883.6 267.5h0M883.6 265.8h0M883.8 273.7h0M883.0 258.9h0M883.6 286.6h0M883.5 209.2h0M884.5 276.6h0M883.9 220.3h0M884.3 257.8h0M883.8 284.1h0M884.5 260.4h0M884.1 182.9h0M885.2 187.0h0M885.1 193.1h0M885.1 178.4h0M885.1 181.5h0M885.0 267.5h0M884.9 240.5h0M885.8 245.3h0M885.6 221.5h0M885.8 254.5h0M885.7 231.3h0M885.5 212.0h0M885.6 228.1h0M886.8 190.6h0M886.6 189.0h0M886.9 250.8h0M886.5 223.7h0M886.5 247.0h0M886.9 198.9h0M887.6 221.2h0M887.4 249.2h0M887.2 235.2h0M887.6 235.1h0M887.2 188.6h0M887.6 247.3h0M888.3 192.8h0M888.4 195.5h0M887.8 238.8h0M887.8 229.7h0M888.2 146.3h0M888.6 190.7h0M888.8 164.6h0M888.7 229.6h0M889.2 166.0h0M888.9 211.1h0M889.0 236.9h0M889.3 179.1h0M890.1 150.4h0M889.7 214.0h0M890.2 229.7h0M889.5 243.6h0M890.1 233.5h0M889.7 149.7h0M890.9 147.4h0M890.4 214.0h0M890.5 161.1h0M890.9 248.0h0M890.5 212.3h0M890.4 189.8h0M891.3 253.3h0M891.0 218.8h0M891.6 219.8h0M891.5 224.6h0M891.2 183.3h0M891.5 253.3h0M892.0 183.5h0M892.5 238.3h0M892.0 131.9h0M892.3 187.5h0M891.8 224.6h0M892.3 224.2h0M893.0 183.0h0M892.8 244.5h0M892.9 224.5h0M893.3 217.9h0M893.4 245.0h0M893.3 232.8h0M893.9 231.0h0M893.4 214.4h0M894.0 147.6h0M894.0 228.1h0M894.2 200.0h0M893.7 248.2h0M894.7 231.2h0M894.9 148.5h0M894.5 187.5h0M894.3 144.6h0M894.8 227.6h0M895.0 203.9h0M895.4 242.9h0M895.0 231.4h0M895.1 242.7h0M895.3 212.1h0M895.2 191.9h0M895.4 159.8h0M895.9 104.1h0M896.2 189.6h0M896.5 210.0h0M896.5 230.3h0M896.1 212.0h0M896.3 172.6h0M896.7 222.2h0M896.9 106.8h0M897.1 240.8h0M896.9 185.8h0M897.3 216.3h0M896.9 214.9h0M897.7 104.0h0M897.5 207.3h0M897.9 163.1h0M897.7 200.4h0M898.0 230.6h0M898.1 198.6h0M898.8 215.4h0M898.4 254.8h0M898.7 104.7h0M898.6 163.5h0M898.4 199.9h0M898.7 242.2h0M899.2 166.1h0M899.1 175.6h0M899.1 181.6h0M899.3 200.2h0M899.1 192.9h0M899.5 204.6h0M900.0 260.4h0M900.2 175.3h0M900.4 187.2h0M900.0 195.6h0M900.5 218.1h0M900.4 196.5h0M901.0 237.3h0M901.3 119.2h0M900.7 186.5h0M900.6 194.4h0M901.4 127.3h0M900.8 171.5h0M901.5 152.0h0M901.8 155.9h0M902.1 281.6h0M902.1 230.0h0M901.8 184.6h0M901.6 148.4h0M902.5 145.3h0M902.5 281.6h0M902.3 279.0h0M902.3 200.2h0M902.4 270.4h0M902.9 255.9h0M903.7 146.9h0M903.4 128.8h0M903.2 169.4h0M903.6 142.5h0M903.2 182.0h0M903.7 277.6h0M904.3 215.4h0M903.9 156.4h0M904.2 188.7h0M904.2 171.8h0M904.6 267.5h0M904.4 257.1h0M904.8 162.7h0M904.9 189.2h0M904.8 263.4h0M904.9 137.1h0M905.0 222.1h0M905.2 281.6h0M906.1 177.9h0M905.6 241.4h0M906.0 242.7h0M905.7 193.7h0M905.5 216.2h0M905.8 144.3h0M906.8 215.5h0M906.8 255.9h0M906.8 237.4h0M906.4 265.4h0M906.6 195.0h0M906.7 234.3h0M907.3 248.6h0M907.6 264.8h0M907.7 244.7h0M907.5 205.3h0M907.1 193.9h0M907.2 168.8h0M908.4 152.9h0M908.5 183.2h0M908.3 218.0h0M908.0 137.1h0M908.1 253.6h0M907.9 208.1h0M909.3 237.9h0M908.7 220.0h0M909.1 241.4h0M909.0 240.8h0M909.0 200.9h0M909.3 205.4h0M910.1 246.7h0M909.4 234.7h0M909.9 165.6h0M909.6 197.6h0M909.6 163.6h0M909.6 171.6h0M910.7 191.8h0M910.6 215.8h0M910.7 242.1h0M910.3 175.9h0M910.8 194.7h0M910.9 239.9h0M911.0 149.6h0M911.1 226.1h0M911.1 225.8h0M911.2 200.8h0M911.4 221.3h0M911.6 214.0h0M911.9 175.4h0M911.8 230.6h0M911.9 221.1h0M912.4 178.8h0M912.0 136.7h0M912.4 242.8h0M913.3 215.8h0M912.8 217.7h0M913.4 243.0h0M913.0 205.1h0M913.2 213.2h0M913.0 165.9h0M913.7 238.5h0M913.7 163.3h0M913.8 192.0h0M913.9 213.9h0M913.8 233.5h0M913.5 166.8h0M914.9 225.7h0M914.2 157.7h0M914.7 200.0h0M914.6 174.9h0M914.4 243.6h0M914.8 190.4h0M915.5 240.6h0M915.5 198.5h0M915.4 250.3h0M915.5 231.3h0M915.1 230.3h0M915.2 197.0h0M916.0 183.6h0M916.4 211.5h0M916.4 247.9h0M916.5 250.3h0M916.4 252.0h0M915.9 228.8h0M917.0 227.8h0M916.7 225.9h0M916.8 215.0h0M916.9 161.5h0M916.8 223.9h0M916.9 161.2h0M918.1 202.4h0M918.0 229.3h0M917.5 239.5h0M917.8 254.8h0M917.6 174.2h0M918.0 224.7h0M918.3 241.6h0M918.5 218.0h0M918.9 166.1h0M918.6 244.7h0M918.2 228.7h0M918.9 225.9h0M919.5 241.5h0M919.1 197.0h0M919.1 168.5h0M919.6 241.6h0M919.3 260.4h0M919.4 255.1h0M919.9 263.6h0M919.9 251.0h0M920.0 260.2h0M919.9 221.7h0M920.1 183.5h0M920.0 248.5h0M920.6 181.9h0M920.7 195.4h0M920.9 166.5h0M921.3 214.3h0M920.7 263.0h0M921.1 202.0h0M921.6 199.7h0M921.5 228.6h0M921.6 235.6h0M921.6 217.7h0M921.9 252.4h0M922.0 267.3h0M922.4 231.0h0M922.6 268.8h0M922.8 230.0h0M922.5 245.2h0M922.4 175.6h0M922.9 161.7h0M923.8 160.5h0M923.7 260.1h0M923.2 218.0h0M923.5 159.3h0M923.4 189.3h0M923.7 274.4h0M924.0 270.7h0M924.0 219.3h0M924.4 239.8h0M924.3 276.8h0M924.2 276.2h0M924.3 214.5h0M924.8 283.3h0M924.9 166.2h0M924.9 247.0h0M925.2 209.2h0M924.9 216.1h0M925.0 227.8h0M926.2 275.9h0M926.0 165.8h0M925.8 160.9h0M925.6 187.6h0M926.0 203.4h0M926.1 170.5h0M926.4 182.7h0M926.6 198.3h0M926.5 265.9h0M926.9 196.4h0M926.7 188.7h0M926.3 280.5h0M927.2 236.5h0M927.1 266.1h0M927.6 284.2h0M927.7 278.0h0M927.7 266.9h0M927.2 269.9h0M927.8 262.4h0M928.1 257.5h0M928.5 295.2h0M927.8 264.7h0M928.0 180.7h0M927.8 277.8h0M929.2 293.2h0M929.0 242.8h0M928.8 281.3h0M928.9 185.2h0M929.3 182.1h0M929.3 291.5h0M930.0 299.7h0M930.0 215.8h0M930.1 251.1h0M929.8 291.9h0M929.7 282.5h0M930.0 289.0h0M930.8 252.3h0M930.7 245.4h0M930.8 204.8h0M930.5 253.1h0M930.5 204.0h0M930.5 298.1h0M931.7 240.1h0M931.5 247.7h0M931.6 208.5h0M931.4 270.9h0M931.3 233.1h0M931.5 300.1h0M932.0 231.8h0M932.5 247.7h0M931.9 301.6h0M932.1 269.6h0M932.6 212.9h0M932.4 274.5h0M932.7 258.4h0M932.7 215.9h0M933.0 307.0h0M933.0 309.3h0M933.4 281.4h0M933.3 281.3h0M933.9 245.7h0M933.6 299.4h0M933.7 277.3h0M933.8 261.1h0M933.9 292.7h0M933.6 218.5h0M934.2 294.8h0M934.2 311.1h0M934.9 287.3h0M935.0 259.8h0M934.7 243.9h0M934.2 272.2h0M935.2 294.0h0M935.1 272.2h0M935.3 279.9h0M935.3 284.6h0M935.6 313.1h0M935.5 253.2h0M936.3 315.0h0M936.6 250.5h0M935.8 262.5h0M936.3 249.6h0M936.5 305.3h0M936.5 255.4h0M937.1 308.4h0M936.8 299.4h0M937.1 266.4h0M937.0 302.8h0M937.1 249.4h0M937.1 251.0h0M937.4 248.4h0M937.8 295.0h0M938.2 273.4h0M937.8 282.2h0M937.8 281.3h0M938.2 275.3h0M938.5 318.5h0M938.2 264.5h0M938.2 271.8h0M938.8 283.2h0M938.5 309.9h0M938.8 310.5h0M939.5 294.2h0M939.5 306.1h0M939.6 263.2h0M939.2 263.4h0M939.3 295.0h0M939.6 305.0h0M940.2 313.3h0M940.5 281.2h0M940.0 317.7h0M940.5 298.4h0M940.5 313.8h0M940.2 303.5h0M940.7 275.9h0M940.7 307.8h0M940.8 314.8h0M941.1 289.4h0M941.2 315.1h0M940.7 299.7h0M942.1 286.9h0M942.2 312.5h0M941.6 287.4h0M942.1 317.2h0M941.5 286.6h0M942.0 289.7h0M942.9 299.0h0M942.5 283.9h0M942.9 290.7h0M942.7 310.2h0M942.9 297.0h0M942.4 301.6h0M782.1 283h0M898.5 93h0M900 96h0M911 128h0M912 132h0M675.6 263h0M676.8 272h0" stroke="#000" stroke-width="5.5" stroke-linecap="round" fill="none"/>
<polyline points="614.6,347.0 615.2,373.7 615.8,376.5 616.4,374.5 617.0,354.7 617.6,378.5 618.2,354.5 618.8,368.5 619.4,330.2 620.0,355.9 620.6,324.2 621.2,357.0 621.8,320.2 622.4,357.2 623.0,337.0 623.6,360.5 624.2,355.7 624.8,352.7 625.4,334.7 626.0,352.6 626.6,331.0 627.2,350.8 627.8,343.2 628.4,361.6 629.0,330.1 629.6,342.9 630.2,325.2 630.8,353.7 631.4,333.8 632.0,354.2 632.6,316.6 633.2,354.7 633.8,328.3 634.4,337.6 635.0,317.3 635.6,346.7 636.2,321.0 636.8,349.8 637.4,316.4 638.0,350.3 638.6,325.8 639.2,339.6 639.8,312.7 640.4,353.6 641.0,328.7 641.6,351.9 642.2,335.1 642.8,356.7 643.4,341.6 644.0,373.6 644.6,353.5 645.2,378.1 645.8,354.1 646.4,373.7 647.0,361.0 647.6,375.1 648.2,340.7 648.8,378.9 649.4,366.3 650.0,385.0 650.6,346.8 651.2,384.1 651.8,366.7 652.4,392.5 653.0,373.1 653.6,388.1 654.2,375.6 654.8,394.5 655.4,371.0 656.0,386.3 656.6,378.0 657.2,391.4 657.8,379.6 658.4,393.7 659.0,380.4 659.6,394.2 660.2,375.7 660.8,394.9 661.4,373.8 662.0,386.0 662.6,373.3 663.2,391.8 663.8,364.0 664.4,387.9 665.0,371.6 665.6,383.7 666.2,367.7 666.8,388.1 667.4,369.2 668.0,387.5 668.6,364.0 669.2,375.9 669.8,368.3 670.4,377.1 671.0,362.5 671.6,376.2 672.2,363.7 672.8,377.5 673.4,365.1 674.0,379.7 674.6,355.4 675.2,375.8 675.8,360.0 676.4,378.7 677.0,358.3 677.6,374.7 678.2,337.1 678.8,379.1 679.4,370.0 680.0,369.1 680.6,355.2 681.2,370.5 681.8,356.3 682.4,371.2 683.0,337.4 683.6,379.7 684.2,357.8 684.8,382.6 685.4,354.7 686.0,372.5 686.6,370.9 687.2,382.6 687.8,363.4 688.4,383.2 689.0,356.7 689.6,368.2 690.2,349.4 690.8,384.0 691.4,357.5 692.0,388.3 692.6,352.9 693.2,389.2 693.8,364.4 694.4,385.6 695.0,335.6 695.6,388.6 696.2,355.2 696.8,377.6 697.4,353.4 698.0,373.4 698.6,355.6 699.2,389.0 699.8,356.2 700.4,388.2 701.0,349.6 701.6,385.7 702.2,359.2 702.8,382.7 703.4,339.8 704.0,379.8 704.6,338.1 705.2,367.3 705.8,324.7 706.4,366.1 707.0,321.7 707.6,367.6 708.2,312.3 708.8,348.6 709.4,319.7 710.0,353.3 710.6,316.3 711.2,335.5 711.8,337.0 712.4,331.8 713.0,317.3 713.6,339.4 714.2,299.7 714.8,346.5 715.4,316.8 716.0,340.1 716.6,300.4 717.2,322.4 717.8,300.5 718.4,338.0 719.0,290.6 719.6,330.2 720.2,298.0 720.8,309.5 721.4,302.4 722.0,331.5 722.6,283.5 723.2,304.9 723.8,284.0 724.4,306.9 725.0,279.5 725.6,319.7 726.2,272.1 726.8,301.2 727.4,287.7 728.0,308.6 728.6,279.4 729.2,306.6 729.8,287.1 730.4,327.8 731.0,310.4 731.6,324.0 732.2,314.0 732.8,340.3 733.4,323.9 734.0,346.9 734.6,335.1 735.2,351.2 735.8,336.1 736.4,350.5 737.0,338.3 737.6,372.8 738.2,347.1 738.8,380.6 739.4,356.7 740.0,376.3 740.6,368.3 741.2,386.7 741.8,387.2 742.4,391.4 743.0,380.0 743.6,394.8 744.2,382.6 744.8,395.4 745.4,375.8 746.0,390.4 746.6,379.9 747.2,387.8 747.8,377.8 748.4,391.5 749.0,373.7 749.6,392.9 750.2,374.5 750.8,391.2 751.4,372.7 752.0,384.9 752.6,367.8 753.2,388.1 753.8,369.5 754.4,393.3 755.0,366.8 755.6,383.0 756.2,365.1 756.8,383.2 757.4,366.8 758.0,392.3 758.6,365.1 759.2,392.2 759.8,365.0 760.4,381.3 761.0,363.1 761.6,388.2 762.2,349.2 762.8,381.7 763.4,362.1 764.0,376.1 764.6,363.2 765.2,391.8 765.8,385.1 766.4,378.3 767.0,334.8 767.6,387.5 768.2,353.3 768.8,389.5 769.4,346.8 770.0,370.1 770.6,347.5 771.2,384.4 771.8,352.6 772.4,385.1 773.0,349.5 773.6,385.1 774.2,357.5 774.8,380.5 775.4,377.9 776.0,385.8 776.6,370.6 777.2,369.3 777.8,337.9 778.4,382.0 779.0,360.5 779.6,380.8 780.2,359.0 780.8,381.2 781.4,352.5 782.0,366.7 782.6,347.6 783.2,387.7 783.8,347.3 784.4,376.5 785.0,364.8 785.6,386.4 786.2,345.5 786.8,391.7 787.4,330.8 788.0,390.6 788.6,342.0 789.2,389.7 789.8,343.8 790.4,378.9 791.0,354.3 791.6,377.1 792.2,346.4 792.8,391.2 793.4,360.6 794.0,386.0 794.6,362.8 795.2,389.8 795.8,361.1 796.4,390.4 797.0,364.0 797.6,380.8 798.2,362.6 798.8,390.0 799.4,368.8 800.0,389.0 800.6,377.3 801.2,379.5 801.8,368.0 802.4,387.1 803.0,369.9 803.6,389.8 804.2,369.1 804.8,382.5 805.4,364.2 806.0,390.1 806.6,366.7 807.2,380.8 807.8,359.6 808.4,381.5 809.0,356.9 809.6,382.0 810.2,352.8 810.8,379.8 811.4,360.1 812.0,389.2 812.6,348.7 813.2,390.9 813.8,348.9 814.4,389.9 815.0,354.3 815.6,389.5 816.2,358.3 816.8,377.6 817.4,354.8 818.0,386.5 818.6,341.7 819.2,393.9 819.8,346.0 820.4,389.2 821.0,350.7 821.6,379.0 822.2,344.9 822.8,393.4 823.4,345.7 824.0,393.3 824.6,348.7 825.2,379.5 825.8,353.6 826.4,378.1 827.0,357.2 827.6,389.8 828.2,359.0 828.8,391.9 829.4,361.2 830.0,391.5 830.6,358.2 831.2,382.6 831.8,365.0 832.4,388.3 833.0,360.6 833.6,393.4 834.2,360.3 834.8,386.7 835.4,364.1 836.0,393.6 836.6,387.1 837.2,392.8 837.8,361.9 838.4,382.3 839.0,365.1 839.6,389.3 840.2,367.6 840.8,391.3 841.4,372.0 842.0,384.9 842.6,370.4 843.2,388.5 843.8,374.4 844.4,382.9 845.0,378.3 845.6,385.0 846.2,369.1 846.8,387.1 847.4,380.7 848.0,392.5 848.6,371.1 849.2,389.1 849.8,378.2 850.4,384.8 851.0,378.4 851.6,388.1 852.2,376.6 852.8,379.1 853.4,374.4 854.0,388.2 854.6,355.5 855.2,373.3 855.8,369.5 856.4,384.5 857.0,365.8 857.6,378.6 858.2,361.2 858.8,376.1 859.4,355.8 860.0,370.4 860.6,348.1 861.2,378.1 861.8,344.6 862.4,361.0 863.0,349.3 863.6,359.9 864.2,364.1 864.8,350.1 865.4,305.2 866.0,369.9 866.6,305.7 867.2,368.5 867.8,328.4 868.4,367.8 869.0,335.7 869.6,370.3 870.2,333.2 870.8,340.8 871.4,335.8 872.0,356.9 872.6,323.2 873.2,365.8 873.8,324.0 874.4,351.3 875.0,329.0 875.6,338.0 876.2,295.6 876.8,332.5 877.4,330.9 878.0,341.5 878.6,306.5 879.2,324.2 879.8,278.2 880.4,341.0 881.0,306.3 881.6,334.2 882.2,304.0 882.8,310.2 883.4,294.4 884.0,311.5 884.6,282.1 885.2,313.0 885.8,243.8 886.4,309.4 887.0,250.4 887.6,297.0 888.2,232.1 888.8,281.4 889.4,238.2 890.0,291.4 890.6,279.9 891.2,270.1 891.8,233.8 892.4,291.0 893.0,229.6 893.6,283.0 894.2,270.9 894.8,261.1 895.4,219.8 896.0,286.8 896.6,232.8 897.2,291.5 897.8,211.3 898.4,287.5 899.0,241.0 899.6,321.5 900.2,261.0 900.8,336.8 901.4,271.4 902.0,333.4 902.6,276.1 903.2,322.5 903.8,285.2 904.4,317.4 905.0,288.0 905.6,288.8 906.2,271.3 906.8,305.2 907.4,287.7 908.0,270.9 908.6,252.3 909.2,282.9 909.8,260.4 910.4,257.5 911.0,208.6 911.6,279.8 912.2,220.6 912.8,293.3 913.4,207.3 914.0,287.0 914.6,223.7 915.2,271.4 915.8,240.7 916.4,295.0 917.0,286.6 917.6,304.8 918.2,273.0 918.8,279.3 919.4,234.9 920.0,288.1 920.6,230.2 921.2,312.4 921.8,251.5 922.4,292.9 923.0,251.6 923.6,310.4 924.2,256.3 924.8,319.3 925.4,254.5 926.0,309.1 926.6,259.8 927.2,345.9 927.8,274.4 928.4,320.4 929.0,263.7 929.6,322.9 930.2,286.9 930.8,347.7 931.4,294.0 932.0,338.8 932.6,338.2 933.2,349.5 933.8,296.6 934.4,333.3 935.0,303.6 935.6,327.3 936.2,303.3 936.8,337.2 937.4,329.8 938.0,346.8 938.6,298.3 939.2,327.0 939.8,304.6 940.4,340.7 941.0,305.1 941.6,334.9 942.2,298.7 942.8,329.7" fill="none" stroke="#5a9bd3" stroke-width="2.6" stroke-linejoin="round" stroke-linecap="round" stroke-linejoin="miter"/>
</g>
<line x1="610.00" y1="371.40" x2="614.50" y2="371.40" stroke="#000" stroke-width="1.2"/>
<line x1="610.00" y1="316.19" x2="614.50" y2="316.19" stroke="#000" stroke-width="1.2"/>
<line x1="610.00" y1="260.98" x2="614.50" y2="260.98" stroke="#000" stroke-width="1.2"/>
<line x1="610.00" y1="205.77" x2="614.50" y2="205.77" stroke="#000" stroke-width="1.2"/>
<line x1="610.00" y1="150.56" x2="614.50" y2="150.56" stroke="#000" stroke-width="1.2"/>
<line x1="610.00" y1="95.35" x2="614.50" y2="95.35" stroke="#000" stroke-width="1.2"/>
<line x1="606.20" y1="399.00" x2="614.50" y2="399.00" stroke="#000" stroke-width="1.3"/>
<line x1="614.50" y1="399.00" x2="943.00" y2="399.00" stroke="#000" stroke-width="1.2"/>
<text x="595.50" y="404.30" font-size="15" text-anchor="end" fill="#000">0</text>
<line x1="606.20" y1="343.79" x2="614.50" y2="343.79" stroke="#000" stroke-width="1.3"/>
<line x1="614.50" y1="343.79" x2="943.00" y2="343.79" stroke="#000" stroke-width="1.2"/>
<text x="595.50" y="349.09" font-size="15" text-anchor="end" fill="#000">5</text>
<line x1="606.20" y1="288.58" x2="614.50" y2="288.58" stroke="#000" stroke-width="1.3"/>
<line x1="614.50" y1="288.58" x2="943.00" y2="288.58" stroke="#000" stroke-width="1.2"/>
<text x="595.50" y="293.88" font-size="15" text-anchor="end" fill="#000">10</text>
<line x1="606.20" y1="233.37" x2="614.50" y2="233.37" stroke="#000" stroke-width="1.3"/>
<line x1="614.50" y1="233.37" x2="943.00" y2="233.37" stroke="#000" stroke-width="1.2"/>
<text x="595.50" y="238.67" font-size="15" text-anchor="end" fill="#000">15</text>
<line x1="606.20" y1="178.16" x2="614.50" y2="178.16" stroke="#000" stroke-width="1.3"/>
<line x1="614.50" y1="178.16" x2="943.00" y2="178.16" stroke="#000" stroke-width="1.2"/>
<text x="595.50" y="183.46" font-size="15" text-anchor="end" fill="#000">20</text>
<line x1="606.20" y1="122.95" x2="614.50" y2="122.95" stroke="#000" stroke-width="1.3"/>
<line x1="614.50" y1="122.95" x2="943.00" y2="122.95" stroke="#000" stroke-width="1.2"/>
<text x="595.50" y="128.25" font-size="15" text-anchor="end" fill="#000">25</text>
<line x1="943.00" y1="389.05" x2="947.50" y2="389.05" stroke="#000" stroke-width="1.2"/>
<line x1="943.00" y1="379.09" x2="947.50" y2="379.09" stroke="#000" stroke-width="1.2"/>
<line x1="943.00" y1="369.14" x2="947.50" y2="369.14" stroke="#000" stroke-width="1.2"/>
<line x1="943.00" y1="359.18" x2="947.50" y2="359.18" stroke="#000" stroke-width="1.2"/>
<line x1="943.00" y1="339.27" x2="947.50" y2="339.27" stroke="#000" stroke-width="1.2"/>
<line x1="943.00" y1="329.32" x2="947.50" y2="329.32" stroke="#000" stroke-width="1.2"/>
<line x1="943.00" y1="319.36" x2="947.50" y2="319.36" stroke="#000" stroke-width="1.2"/>
<line x1="943.00" y1="309.41" x2="947.50" y2="309.41" stroke="#000" stroke-width="1.2"/>
<line x1="943.00" y1="289.50" x2="947.50" y2="289.50" stroke="#000" stroke-width="1.2"/>
<line x1="943.00" y1="279.55" x2="947.50" y2="279.55" stroke="#000" stroke-width="1.2"/>
<line x1="943.00" y1="269.59" x2="947.50" y2="269.59" stroke="#000" stroke-width="1.2"/>
<line x1="943.00" y1="259.64" x2="947.50" y2="259.64" stroke="#000" stroke-width="1.2"/>
<line x1="943.00" y1="239.73" x2="947.50" y2="239.73" stroke="#000" stroke-width="1.2"/>
<line x1="943.00" y1="229.78" x2="947.50" y2="229.78" stroke="#000" stroke-width="1.2"/>
<line x1="943.00" y1="219.82" x2="947.50" y2="219.82" stroke="#000" stroke-width="1.2"/>
<line x1="943.00" y1="209.87" x2="947.50" y2="209.87" stroke="#000" stroke-width="1.2"/>
<line x1="943.00" y1="189.96" x2="947.50" y2="189.96" stroke="#000" stroke-width="1.2"/>
<line x1="943.00" y1="180.00" x2="947.50" y2="180.00" stroke="#000" stroke-width="1.2"/>
<line x1="943.00" y1="170.05" x2="947.50" y2="170.05" stroke="#000" stroke-width="1.2"/>
<line x1="943.00" y1="160.09" x2="947.50" y2="160.09" stroke="#000" stroke-width="1.2"/>
<line x1="943.00" y1="140.19" x2="947.50" y2="140.19" stroke="#000" stroke-width="1.2"/>
<line x1="943.00" y1="130.23" x2="947.50" y2="130.23" stroke="#000" stroke-width="1.2"/>
<line x1="943.00" y1="120.28" x2="947.50" y2="120.28" stroke="#000" stroke-width="1.2"/>
<line x1="943.00" y1="110.32" x2="947.50" y2="110.32" stroke="#000" stroke-width="1.2"/>
<line x1="943.00" y1="90.41" x2="947.50" y2="90.41" stroke="#000" stroke-width="1.2"/>
<line x1="943.00" y1="80.46" x2="947.50" y2="80.46" stroke="#000" stroke-width="1.2"/>
<line x1="943.00" y1="399.00" x2="951.50" y2="399.00" stroke="#000" stroke-width="1.3"/>
<text x="961.50" y="404.30" font-size="15" text-anchor="start" fill="#000">960</text>
<line x1="943.00" y1="349.23" x2="951.50" y2="349.23" stroke="#000" stroke-width="1.3"/>
<text x="961.50" y="354.53" font-size="15" text-anchor="start" fill="#000">965</text>
<line x1="943.00" y1="299.46" x2="951.50" y2="299.46" stroke="#000" stroke-width="1.3"/>
<text x="961.50" y="304.76" font-size="15" text-anchor="start" fill="#000">970</text>
<line x1="943.00" y1="249.68" x2="951.50" y2="249.68" stroke="#000" stroke-width="1.3"/>
<text x="961.50" y="254.98" font-size="15" text-anchor="start" fill="#000">975</text>
<line x1="943.00" y1="199.91" x2="951.50" y2="199.91" stroke="#000" stroke-width="1.3"/>
<text x="961.50" y="205.21" font-size="15" text-anchor="start" fill="#000">980</text>
<line x1="943.00" y1="150.14" x2="951.50" y2="150.14" stroke="#000" stroke-width="1.3"/>
<text x="961.50" y="155.44" font-size="15" text-anchor="start" fill="#000">985</text>
<line x1="943.00" y1="100.37" x2="951.50" y2="100.37" stroke="#000" stroke-width="1.3"/>
<text x="961.50" y="105.67" font-size="15" text-anchor="start" fill="#000">990</text>
<line x1="613.85" y1="71.50" x2="943.65" y2="71.50" stroke="#000" stroke-width="1.3"/>
<line x1="613.85" y1="399.00" x2="943.65" y2="399.00" stroke="#000" stroke-width="1.3"/>
<line x1="614.50" y1="71.50" x2="614.50" y2="399.00" stroke="#000" stroke-width="1.3"/>
<line x1="943.00" y1="71.50" x2="943.00" y2="399.00" stroke="#000" stroke-width="1.3"/>
<line x1="614.50" y1="399.00" x2="614.50" y2="407.50" stroke="#000" stroke-width="1.3"/>
<line x1="614.50" y1="71.50" x2="614.50" y2="63.00" stroke="#000" stroke-width="1.3"/>
<text x="614.50" y="429.30" font-size="15" text-anchor="middle" fill="#000">01/08</text>
<line x1="661.43" y1="399.00" x2="661.43" y2="407.50" stroke="#000" stroke-width="1.3"/>
<line x1="661.43" y1="71.50" x2="661.43" y2="63.00" stroke="#000" stroke-width="1.3"/>
<text x="661.43" y="429.30" font-size="15" text-anchor="middle" fill="#000">02/08</text>
<line x1="708.36" y1="399.00" x2="708.36" y2="407.50" stroke="#000" stroke-width="1.3"/>
<line x1="708.36" y1="71.50" x2="708.36" y2="63.00" stroke="#000" stroke-width="1.3"/>
<text x="708.36" y="429.30" font-size="15" text-anchor="middle" fill="#000">03/08</text>
<line x1="755.29" y1="399.00" x2="755.29" y2="407.50" stroke="#000" stroke-width="1.3"/>
<line x1="755.29" y1="71.50" x2="755.29" y2="63.00" stroke="#000" stroke-width="1.3"/>
<text x="755.29" y="429.30" font-size="15" text-anchor="middle" fill="#000">04/08</text>
<line x1="802.21" y1="399.00" x2="802.21" y2="407.50" stroke="#000" stroke-width="1.3"/>
<line x1="802.21" y1="71.50" x2="802.21" y2="63.00" stroke="#000" stroke-width="1.3"/>
<text x="802.21" y="429.30" font-size="15" text-anchor="middle" fill="#000">05/08</text>
<line x1="849.14" y1="399.00" x2="849.14" y2="407.50" stroke="#000" stroke-width="1.3"/>
<line x1="849.14" y1="71.50" x2="849.14" y2="63.00" stroke="#000" stroke-width="1.3"/>
<text x="849.14" y="429.30" font-size="15" text-anchor="middle" fill="#000">06/08</text>
<line x1="896.07" y1="399.00" x2="896.07" y2="407.50" stroke="#000" stroke-width="1.3"/>
<line x1="896.07" y1="71.50" x2="896.07" y2="63.00" stroke="#000" stroke-width="1.3"/>
<text x="896.07" y="429.30" font-size="15" text-anchor="middle" fill="#000">07/08</text>
<line x1="943.00" y1="399.00" x2="943.00" y2="407.50" stroke="#000" stroke-width="1.3"/>
<line x1="943.00" y1="71.50" x2="943.00" y2="63.00" stroke="#000" stroke-width="1.3"/>
<text x="943.00" y="429.30" font-size="15" text-anchor="middle" fill="#000">08/08</text>
<text x="778.75" y="458.00" font-size="20.9" text-anchor="middle" fill="#000">Time (Day/UTC)</text>
<g clip-path="url(#cTR)"><polyline points="614.0,223.3 616.0,216.4 618.0,209.5 620.0,203.1 621.7,195.6 623.3,188.9 625.0,182.7 626.6,178.2 628.3,173.9 630.0,175.7 631.6,176.2 633.3,176.6 635.0,173.6 636.6,172.3 638.3,170.3 639.9,159.9 641.6,149.3 643.2,139.9 644.9,135.2 646.5,130.5 648.2,125.9 649.9,123.8 651.5,120.1 653.2,117.3 654.9,113.4 656.5,111.1 658.2,109.0 659.9,105.7 661.6,103.4 663.2,101.0 664.9,98.2 666.5,96.2 668.2,92.8 669.8,90.1 671.8,85.9 673.8,82.1 676.0,83.9 678.2,85.7 679.9,95.8 681.5,103.7 683.2,108.6 684.8,114.7 686.5,121.0 688.2,123.5 689.8,124.2 691.5,125.6 693.1,126.9 694.8,126.5 696.5,127.3 698.1,128.0 699.8,130.6 701.4,133.1 703.1,136.5 704.7,139.3 706.4,143.6 708.0,147.9 709.7,152.0 711.4,156.1 713.0,158.0 714.7,162.0 716.4,164.3 718.0,166.4 720.0,163.8 722.4,175.9 724.7,188.8 727.0,199.8 729.4,211.1 731.8,222.7 734.1,233.4 735.9,236.1 737.6,240.9 739.5,239.8 741.5,237.8 743.4,237.0 745.4,232.4 747.3,227.5 749.3,222.3 751.3,221.1 753.2,219.5 755.2,217.8 757.1,211.5 759.1,206.7 761.0,200.5 763.4,193.5 765.7,185.0 767.7,188.6 769.6,189.9 771.6,192.5 773.9,200.5 776.2,209.8 778.2,213.3 780.1,216.9 782.1,219.6 784.5,217.0 786.8,212.3 789.1,214.6 791.5,216.5 793.9,221.6 796.2,227.8 798.0,224.9 799.7,223.8 802.0,230.9 804.4,239.0 806.1,234.6 807.9,230.6 810.2,226.4 812.6,222.1 815.0,222.1 817.3,221.4 819.0,225.1 820.8,230.4 822.5,238.5 824.3,247.4 826.0,243.8 827.8,240.1 830.1,242.4 832.5,245.1 834.2,242.3 836.0,239.0 836.6,239.0 838.3,237.7 840.0,235.6 841.6,232.6 843.3,230.8 845.0,229.6 846.6,227.2 848.3,223.8 850.0,222.6 851.6,219.1 853.3,216.4 855.0,213.0 856.6,209.3 858.3,207.1 859.9,202.8 861.6,199.5 863.2,196.4 864.9,201.9 866.5,207.2 868.2,211.8 869.9,212.5 871.5,213.9 873.2,214.8 874.9,213.4 876.5,211.3 878.2,208.8 879.9,205.8 881.6,212.0 883.2,217.3 884.9,222.4 886.5,227.8 888.2,231.3 889.8,236.6 891.5,241.7 893.1,247.1 894.8,253.2 896.5,255.4 898.1,258.1 899.8,260.4 901.5,261.1 903.1,261.3 904.8,263.1 906.5,272.8 908.1,283.5 909.8,292.6 911.5,303.5 913.1,314.0 914.8,325.9 916.5,337.1 918.1,347.8 919.8,358.5 921.4,357.0 923.1,354.0 924.7,352.0 926.4,359.1 928.0,365.6 929.7,372.5 931.4,372.6 933.0,372.3 934.7,371.8 936.4,371.6 938.0,375.5 939.7,379.1 941.4,380.8 943.0,383.8" fill="none" stroke="#a11d21" stroke-width="4.5" stroke-linejoin="round" stroke-linecap="round" /></g>
<text x="779.30" y="50.90" font-size="25.4" text-anchor="middle" fill="#000">Winds (mph) &amp; Pressure (mb)</text>
<text x="562.00" y="235.25" font-size="21.2" text-anchor="middle" fill="#000" transform="rotate(-90 562 235.25)">Sonic Wind &amp; Gust (Blue, Black)</text>
<text x="1013.50" y="235.25" font-size="21.2" text-anchor="middle" fill="#000" transform="rotate(-90 1013.5 235.25)">Station Pressure (Maroon)</text>
<defs><clipPath id="cBL"><rect x="96" y="526" width="342" height="340"/></clipPath></defs><g clip-path="url(#cBL)">
<polyline points="102.1,566.1 103.5,567.7 104.9,568.6 106.0,574.3 107.2,578.7 108.3,584.2 109.4,591.1 110.6,598.2 111.8,601.7 112.9,605.2 114.1,617.3 115.2,628.1 116.3,645.5 117.5,663.2 118.7,668.5 119.8,674.2 120.9,680.2 122.1,685.4 123.1,690.4 124.1,696.8 125.1,701.6 126.7,662.7 127.8,639.2 129.0,617.1 130.0,609.0 131.0,601.6 132.0,593.5 133.3,601.2 134.7,607.4 135.8,604.3 137.0,601.9 138.1,598.1 139.3,614.2 140.4,630.5 141.6,647.2 142.8,628.9 143.9,611.9 145.1,599.9 146.2,586.4 147.3,582.2 148.5,578.1 149.6,573.5 150.8,574.1 151.9,573.9 153.0,575.4 154.2,575.3 155.3,577.4 156.5,578.5 157.6,580.6 158.8,592.7 159.9,605.0 161.1,635.8 162.2,667.2 163.4,678.9 164.5,691.3 165.7,704.3 166.8,713.2 168.0,722.7 169.1,731.1 170.2,737.0 171.4,742.5 172.5,747.5 173.8,755.2 175.2,763.5 176.2,748.9 177.3,734.3 178.3,720.1 179.4,694.0 180.6,667.7 181.7,648.2 182.9,628.5 184.0,610.3 185.2,631.3 186.3,653.2 187.4,662.2 188.6,671.8 189.8,665.0 190.9,658.0 192.1,651.2 193.2,641.6 194.4,633.1 195.5,623.6 196.7,622.5 197.8,622.3 198.9,621.6 200.1,620.7 201.2,618.1 202.4,614.3 203.5,612.1 204.7,607.5 205.8,602.7 207.0,598.7 208.1,595.1 209.3,590.3 210.4,586.9 211.6,584.4 212.7,581.3 213.9,577.7 215.0,574.3 216.2,571.6 217.3,568.6 218.5,568.4 219.6,567.1 220.8,566.6 221.9,566.9 223.1,562.3 224.2,559.5 225.3,555.5 226.5,552.8 227.7,550.7 228.8,549.6 229.9,547.0 231.1,546.1 232.2,543.6 233.3,541.7 234.5,540.0 235.6,538.3 236.8,538.1 237.9,538.2 239.1,536.9 240.2,536.7 241.3,535.3 242.5,535.3 243.7,535.3 244.8,534.8 245.9,535.4 247.1,535.2 248.2,535.1 249.4,535.7 250.6,537.5 251.7,538.7 252.9,540.6 254.0,553.2 255.1,566.0 256.3,571.8 257.4,577.6 258.6,583.0 259.7,595.8 260.9,607.9 262.0,621.8 263.1,642.4 264.3,662.7 265.4,666.4 266.6,669.0 267.7,671.4 268.9,676.1 270.0,680.6 271.1,649.0 272.3,616.9 273.5,596.6 274.6,574.9 275.8,566.9 276.9,560.0 278.1,554.5 279.2,550.0 280.4,546.1 281.5,544.1 282.6,543.8 283.8,542.7 284.9,541.2 286.1,541.7 287.2,541.4 288.4,542.6 289.5,543.1 290.7,543.7 291.8,545.0 293.0,546.0 294.1,547.7 295.3,545.1 296.4,541.4 297.6,538.3 298.7,538.0 299.9,538.2 301.0,537.5 302.2,536.8 303.3,537.1 304.4,537.2 305.6,537.3 306.8,538.3 307.9,539.2 309.1,539.2 310.2,539.8 311.4,539.2 312.5,539.0 313.6,537.8 314.8,536.5 316.0,536.2 317.1,535.1 318.2,535.7 319.4,536.3 320.6,535.9 321.7,536.8 322.9,537.0 324.0,537.7 325.1,537.4 326.3,536.4 327.4,536.1 328.5,535.1 329.7,534.5 330.8,534.2 331.8,534.2 332.8,533.9 333.9,534.5 334.9,534.2 335.9,534.0 336.9,533.9 338.0,534.6 339.0,534.7 340.0,534.7 341.0,533.9 342.0,533.7 343.1,534.4 344.1,533.6 345.1,534.6 346.1,534.4 347.2,534.0 348.2,534.1 349.2,534.4 350.3,534.6 351.5,535.6 352.6,536.8 353.8,545.9 354.9,554.9 356.0,560.1 357.2,566.0 358.5,567.9 359.8,569.5 361.1,572.2 363.0,554.9 364.1,553.6 365.3,551.4 366.5,550.1 367.6,547.9 368.7,548.3 369.9,548.4 371.0,549.0 372.1,550.0 373.3,549.8 374.4,549.6 375.5,550.8 376.7,551.4 377.9,552.6 379.0,553.3 380.1,554.0 381.3,555.3 382.4,555.5 383.6,555.1 384.8,555.4 385.9,556.6 387.1,556.8 388.2,557.3 389.4,558.8 390.5,560.0 391.6,562.2 392.8,564.4 393.9,570.4 395.1,576.1 396.2,582.4 397.4,589.7 398.5,600.8 399.7,611.8 400.9,623.9 402.0,635.6 403.1,630.2 404.3,624.6 405.4,619.5 406.5,617.5 407.7,616.8 408.9,616.0 410.0,614.3 411.1,585.4 412.3,557.5 413.5,561.9 414.6,565.7 415.7,562.7 416.9,560.2 418.0,557.6 419.1,567.6 420.3,578.3 421.5,575.8 422.6,574.8 423.8,572.8 425.0,563.8 426.1,554.4 427.2,561.7 428.4,568.1 429.5,575.7" fill="none" stroke="#8cc84f" stroke-width="5.4" stroke-linejoin="round" stroke-linecap="round" />
<polyline points="102.0,854.0 209.8,854.0 216.9,844.3 226.2,839.6 235.6,836.1 294.2,836.1 301.2,824.4 310.6,822.0 314.1,800.0 316.0,770.0 317.5,735.0 319.5,716.0 323.0,706.0 329.0,699.0 336.0,695.5 346.0,693.2 385.9,693.5 390.5,689.3 411.2,689.3 413.0,670.0 414.0,658.0 418.0,654.6 431.8,654.6" fill="none" stroke="#46b04a" stroke-width="11.5" stroke-linejoin="round" stroke-linecap="round" />
<circle cx="102.3" cy="858" r="6.3" fill="#46b04a"/>
</g>
<line x1="98.00" y1="827.25" x2="102.50" y2="827.25" stroke="#000" stroke-width="1.2"/>
<line x1="98.00" y1="761.75" x2="102.50" y2="761.75" stroke="#000" stroke-width="1.2"/>
<line x1="98.00" y1="696.25" x2="102.50" y2="696.25" stroke="#000" stroke-width="1.2"/>
<line x1="98.00" y1="630.75" x2="102.50" y2="630.75" stroke="#000" stroke-width="1.2"/>
<line x1="98.00" y1="565.25" x2="102.50" y2="565.25" stroke="#000" stroke-width="1.2"/>
<line x1="94.20" y1="860.00" x2="102.50" y2="860.00" stroke="#000" stroke-width="1.3"/>
<line x1="102.50" y1="860.00" x2="430.00" y2="860.00" stroke="#000" stroke-width="1.2"/>
<text x="83.50" y="865.30" font-size="15" text-anchor="end" fill="#000">0</text>
<line x1="94.20" y1="794.50" x2="102.50" y2="794.50" stroke="#000" stroke-width="1.3"/>
<line x1="102.50" y1="794.50" x2="430.00" y2="794.50" stroke="#000" stroke-width="1.2"/>
<text x="83.50" y="799.80" font-size="15" text-anchor="end" fill="#000">20</text>
<line x1="94.20" y1="729.00" x2="102.50" y2="729.00" stroke="#000" stroke-width="1.3"/>
<line x1="102.50" y1="729.00" x2="430.00" y2="729.00" stroke="#000" stroke-width="1.2"/>
<text x="83.50" y="734.30" font-size="15" text-anchor="end" fill="#000">40</text>
<line x1="94.20" y1="663.50" x2="102.50" y2="663.50" stroke="#000" stroke-width="1.3"/>
<line x1="102.50" y1="663.50" x2="430.00" y2="663.50" stroke="#000" stroke-width="1.2"/>
<text x="83.50" y="668.80" font-size="15" text-anchor="end" fill="#000">60</text>
<line x1="94.20" y1="598.00" x2="102.50" y2="598.00" stroke="#000" stroke-width="1.3"/>
<line x1="102.50" y1="598.00" x2="430.00" y2="598.00" stroke="#000" stroke-width="1.2"/>
<text x="83.50" y="603.30" font-size="15" text-anchor="end" fill="#000">80</text>
<line x1="94.20" y1="532.50" x2="102.50" y2="532.50" stroke="#000" stroke-width="1.3"/>
<line x1="102.50" y1="532.50" x2="430.00" y2="532.50" stroke="#000" stroke-width="1.2"/>
<text x="83.50" y="537.80" font-size="15" text-anchor="end" fill="#000">100</text>
<line x1="430.00" y1="838.17" x2="434.50" y2="838.17" stroke="#000" stroke-width="1.2"/>
<line x1="430.00" y1="816.33" x2="434.50" y2="816.33" stroke="#000" stroke-width="1.2"/>
<line x1="430.00" y1="772.67" x2="434.50" y2="772.67" stroke="#000" stroke-width="1.2"/>
<line x1="430.00" y1="750.83" x2="434.50" y2="750.83" stroke="#000" stroke-width="1.2"/>
<line x1="430.00" y1="707.17" x2="434.50" y2="707.17" stroke="#000" stroke-width="1.2"/>
<line x1="430.00" y1="685.33" x2="434.50" y2="685.33" stroke="#000" stroke-width="1.2"/>
<line x1="430.00" y1="641.67" x2="434.50" y2="641.67" stroke="#000" stroke-width="1.2"/>
<line x1="430.00" y1="619.83" x2="434.50" y2="619.83" stroke="#000" stroke-width="1.2"/>
<line x1="430.00" y1="576.17" x2="434.50" y2="576.17" stroke="#000" stroke-width="1.2"/>
<line x1="430.00" y1="554.33" x2="434.50" y2="554.33" stroke="#000" stroke-width="1.2"/>
<line x1="430.00" y1="860.00" x2="438.50" y2="860.00" stroke="#000" stroke-width="1.3"/>
<text x="448.50" y="865.30" font-size="15" text-anchor="start" fill="#000">0.0</text>
<line x1="430.00" y1="794.50" x2="438.50" y2="794.50" stroke="#000" stroke-width="1.3"/>
<text x="448.50" y="799.80" font-size="15" text-anchor="start" fill="#000">0.3</text>
<line x1="430.00" y1="729.00" x2="438.50" y2="729.00" stroke="#000" stroke-width="1.3"/>
<text x="448.50" y="734.30" font-size="15" text-anchor="start" fill="#000">0.6</text>
<line x1="430.00" y1="663.50" x2="438.50" y2="663.50" stroke="#000" stroke-width="1.3"/>
<text x="448.50" y="668.80" font-size="15" text-anchor="start" fill="#000">0.9</text>
<line x1="430.00" y1="598.00" x2="438.50" y2="598.00" stroke="#000" stroke-width="1.3"/>
<text x="448.50" y="603.30" font-size="15" text-anchor="start" fill="#000">1.2</text>
<line x1="101.85" y1="532.50" x2="430.65" y2="532.50" stroke="#000" stroke-width="1.3"/>
<line x1="101.85" y1="860.00" x2="430.65" y2="860.00" stroke="#000" stroke-width="1.3"/>
<line x1="102.50" y1="532.50" x2="102.50" y2="860.00" stroke="#000" stroke-width="1.3"/>
<line x1="430.00" y1="532.50" x2="430.00" y2="860.00" stroke="#000" stroke-width="1.3"/>
<line x1="102.50" y1="860.00" x2="102.50" y2="868.50" stroke="#000" stroke-width="1.3"/>
<line x1="102.50" y1="532.50" x2="102.50" y2="524.00" stroke="#000" stroke-width="1.3"/>
<text x="102.50" y="890.30" font-size="15" text-anchor="middle" fill="#000">01/08</text>
<line x1="149.29" y1="860.00" x2="149.29" y2="868.50" stroke="#000" stroke-width="1.3"/>
<line x1="149.29" y1="532.50" x2="149.29" y2="524.00" stroke="#000" stroke-width="1.3"/>
<text x="149.29" y="890.30" font-size="15" text-anchor="middle" fill="#000">02/08</text>
<line x1="196.07" y1="860.00" x2="196.07" y2="868.50" stroke="#000" stroke-width="1.3"/>
<line x1="196.07" y1="532.50" x2="196.07" y2="524.00" stroke="#000" stroke-width="1.3"/>
<text x="196.07" y="890.30" font-size="15" text-anchor="middle" fill="#000">03/08</text>
<line x1="242.86" y1="860.00" x2="242.86" y2="868.50" stroke="#000" stroke-width="1.3"/>
<line x1="242.86" y1="532.50" x2="242.86" y2="524.00" stroke="#000" stroke-width="1.3"/>
<text x="242.86" y="890.30" font-size="15" text-anchor="middle" fill="#000">04/08</text>
<line x1="289.64" y1="860.00" x2="289.64" y2="868.50" stroke="#000" stroke-width="1.3"/>
<line x1="289.64" y1="532.50" x2="289.64" y2="524.00" stroke="#000" stroke-width="1.3"/>
<text x="289.64" y="890.30" font-size="15" text-anchor="middle" fill="#000">05/08</text>
<line x1="336.43" y1="860.00" x2="336.43" y2="868.50" stroke="#000" stroke-width="1.3"/>
<line x1="336.43" y1="532.50" x2="336.43" y2="524.00" stroke="#000" stroke-width="1.3"/>
<text x="336.43" y="890.30" font-size="15" text-anchor="middle" fill="#000">06/08</text>
<line x1="383.21" y1="860.00" x2="383.21" y2="868.50" stroke="#000" stroke-width="1.3"/>
<line x1="383.21" y1="532.50" x2="383.21" y2="524.00" stroke="#000" stroke-width="1.3"/>
<text x="383.21" y="890.30" font-size="15" text-anchor="middle" fill="#000">07/08</text>
<line x1="430.00" y1="860.00" x2="430.00" y2="868.50" stroke="#000" stroke-width="1.3"/>
<line x1="430.00" y1="532.50" x2="430.00" y2="524.00" stroke="#000" stroke-width="1.3"/>
<text x="430.00" y="890.30" font-size="15" text-anchor="middle" fill="#000">08/08</text>
<text x="266.25" y="919.00" font-size="20.9" text-anchor="middle" fill="#000">Time (Day/UTC)</text>
<text x="266.00" y="511.00" font-size="25.2" text-anchor="middle" fill="#000">Relative Humidity (%) &amp; Precipitation (in)</text>
<text x="44.90" y="696.25" font-size="21.2" text-anchor="middle" fill="#000" transform="rotate(-90 44.9 696.25)">Percent &amp; Total Rainfall</text>
<defs><clipPath id="cBR"><rect x="606" y="526" width="344" height="340"/></clipPath></defs><g clip-path="url(#cBR)">
<path stroke="#b4e1f6" stroke-width="6" stroke-linecap="round" fill="none" d="M790.4 533.2h0M773.3 546.9h0M754.8 545.5h0M752.8 549.6h0M759.6 559.2h0M752.1 560.5h0M754.1 562.6h0M776.7 561.9h0M804.0 538.7h0M792.4 562.6h0M804.7 557.1h0M804.7 561.2h0M813.6 553.7h0M797.9 568.8h0M797.2 573.5h0M790.4 576.3h0M812.9 566.7h0M836.9 539.4h0M819.8 544.8h0M828.0 549.6h0M832.8 551.7h0M847.1 540.7h0M853.9 548.2h0M860.1 548.9h0M862.2 551.0h0M853.9 561.2h0M847.8 570.8h0M847.8 573.5h0M838.9 572.9h0M845.7 579.0h0M834.1 581.1h0M839.6 582.4h0M864.2 584.5h0M857.4 589.3h0M834.1 592.0h0M752.8 585.2h0M767.1 584.5h0M757.6 594.0h0M756.9 598.1h0M756.2 605.0h0M752.8 609.8h0M745.9 611.8h0M798.6 586.5h0M804.0 585.8h0M805.4 589.3h0M798.6 594.0h0M805.4 594.0h0M797.9 604.3h0M797.2 607.0h0M813.6 600.9h0M825.9 598.1h0M834.1 607.0h0M843.0 609.1h0M865.6 597.5h0M858.0 601.6h0M756.9 615.9h0M763.0 618.0h0M745.9 622.1h0M753.5 624.1h0M769.9 638.5h0M745.9 633.0h0M756.2 632.3h0M756.2 638.5h0M758.9 649.4h0M763.0 656.3h0M803.4 618.0h0M798.6 622.1h0M802.0 627.5h0M797.9 631.6h0M797.2 637.8h0M804.0 644.0h0M797.2 657.6h0M803.4 659.7h0M820.5 622.8h0M827.3 637.8h0M844.4 618.7h0M845.7 630.3h0M836.2 645.3h0M841.0 643.3h0M851.2 645.3h0M858.7 638.5h0M697.5 642.1h0M763.0 656.1h0M758.8 649.7h0M756.6 670.1h0M756.6 678.7h0M763.0 687.3h0M770.6 687.3h0M746.9 666.9h0M745.9 664.7h0M750.2 699.1h0M754.5 709.8h0M706.1 721.6h0M758.8 730.2h0M784.5 706.6h0M796.3 735.6h0M769.5 640.0h0M618.0 555.0h0M616.5 560.0h0M695.4 543.8h0M706.5 542.1h0M671.5 578.0h0M671.5 603.6h0M670.7 613.9h0M698.9 620.7h0M698.0 628.4h0M697.1 642.1h0M672.4 645.5h0M655.3 672.8h0M616.8 755.1h0M658.5 748.2h0M670.8 757.1h0M658.5 782.4h0M656.5 812.5h0M662.6 831.6h0M655.8 848.0h0M656.5 860.3h0M697.5 837.1h0M698.2 813.9h0M755.1 709.7h0M758.4 707.2h0M785.0 717.7h0M804.3 701.6h0M750.3 727.4h0M759.2 731.4h0M764.0 734.6h0M796.2 735.4h0M792.2 740.3h0M784.1 743.5h0M769.6 757.2h0M756.7 761.2h0M749.5 762.8h0M785.0 764.4h0M751.1 769.3h0M846.2 706.4h0M852.6 704.8h0M855.8 701.6h0M848.6 716.1h0M847.0 719.3h0M844.6 730.6h0M853.4 736.2h0M845.4 745.1h0M853.4 743.5h0M859.9 742.7h0M826.0 746.7h0M818.0 757.2h0M805.9 759.6h0M834.9 759.6h0M842.9 755.6h0M846.2 756.4h0M853.4 754.8h0M853.4 758.8h0M805.9 767.7h0M859.1 766.1h0M859.1 770.1h0M818.0 774.9h0M847.0 778.1h0M853.4 779.7h0M859.9 780.6h0M759.2 790.2h0M795.4 787.8h0M806.7 786.2h0M809.1 791.0h0M817.2 789.4h0M853.4 789.4h0M751.1 799.1h0M838.9 797.5h0M854.2 800.7h0M759.2 802.3h0M758.4 812.8h0M764.0 811.2h0M810.7 810.4h0M857.4 807.1h0M818.0 816.0h0M836.5 820.0h0M812.3 827.3h0M859.9 832.1h0M755.1 840.2h0M792.2 837.7h0M747.9 842.6h0M793.0 848.2h0M805.9 843.4h0M796.2 852.2h0M857.4 851.4h0M799.4 859.5h0M847.8 858.7h0M812.3 860.3h0M861.4 549.6h0M864.1 584.5h0M859.2 742.3h0M860.0 766.4h0M859.2 769.7h0M860.0 781.4h0M857.5 807.1h0M860.0 832.0h0M857.5 851.1h0M748.1 696.9h0M754.0 693.7h0M748.2 691.8h0M745.6 692.9h0M669.9 772.6h0M665.4 781.7h0"/>
<path stroke="#7db8e2" stroke-width="6" stroke-linecap="round" fill="none" d="M759.6 532.5h0M761.7 537.3h0M754.8 538.7h0M767.8 539.4h0M772.6 542.1h0M767.1 544.8h0M761.7 547.6h0M767.8 555.8h0M769.9 557.8h0M819.8 532.5h0M820.5 535.3h0M819.1 538.0h0M828.7 533.9h0M832.1 535.9h0M836.2 544.1h0M821.8 547.6h0M819.8 549.6h0M773.3 590.0h0M767.1 595.4h0M776.7 598.8h0M775.3 611.1h0M756.2 611.1h0M812.2 607.7h0M821.8 598.8h0M827.3 610.5h0M839.6 604.3h0M861.5 596.8h0M860.8 599.5h0M863.5 605.7h0M856.7 610.5h0M862.2 610.5h0M744.6 615.9h0M774.7 634.4h0M741.2 639.8h0M744.6 644.0h0M744.6 650.8h0M771.9 654.2h0M783.5 662.4h0M802.0 637.1h0M798.6 646.7h0M797.2 651.5h0M812.2 613.9h0M814.3 621.4h0M815.0 628.9h0M825.2 632.3h0M815.7 643.3h0M811.6 648.7h0M815.7 650.1h0M827.3 647.4h0M814.3 657.0h0M816.4 660.4h0M836.9 620.0h0M837.5 634.4h0M852.6 631.6h0M839.6 654.2h0M843.0 656.3h0M856.7 623.4h0M860.8 628.9h0M856.0 644.6h0M863.5 644.0h0M854.6 650.1h0M862.2 660.4h0M872.6 701.2h0M873.1 711.4h0M861.5 661.3h0M864.3 643.7h0M865.2 652.1h0M702.9 705.5h0M700.7 709.8h0M701.8 715.2h0M700.7 719.5h0M701.3 726.0h0M701.8 731.8h0M698.1 659.3h0M699.7 677.6h0M743.7 643.2h0M744.2 648.6h0M744.2 652.9h0M746.9 677.6h0M750.2 683.0h0M745.9 691.6h0M743.7 701.2h0M748.0 708.8h0M752.3 688.3h0M757.7 686.2h0M771.6 654.0h0M783.5 662.6h0M783.5 667.9h0M778.1 683.0h0M783.5 678.7h0M770.6 701.2h0M770.6 713.0h0M764.1 720.6h0M748.0 732.4h0M754.5 729.2h0M782.4 701.2h0M783.5 714.1h0M784.0 722.2h0M783.5 734.5h0M615.0 544.0h0M617.0 547.0h0M616.8 565.2h0M616.0 550.6h0M654.4 537.8h0M653.6 547.2h0M654.0 554.0h0M652.7 541.6h0M677.5 549.8h0M678.0 636.0h0M686.9 571.1h0M686.9 576.3h0M683.8 588.2h0M683.8 606.2h0M686.9 618.1h0M685.2 634.4h0M673.2 634.4h0M672.4 644.6h0M687.8 657.4h0M672.4 660.0h0M672.4 666.0h0M672.4 674.5h0M679.2 677.1h0M680.1 684.8h0M655.3 680.5h0M655.3 685.6h0M698.9 598.1h0M698.5 611.3h0M698.0 632.3h0M698.0 659.1h0M698.9 677.1h0M701.6 726.4h0M701.6 732.5h0M657.2 760.5h0M663.3 764.6h0M657.2 766.0h0M657.2 770.1h0M660.6 772.8h0M657.8 775.6h0M668.8 779.0h0M679.0 777.6h0M660.6 785.8h0M666.0 785.2h0M670.2 789.3h0M662.6 790.6h0M656.5 794.0h0M666.7 795.4h0M668.1 800.2h0M660.6 801.6h0M670.2 804.3h0M659.2 807.0h0M667.4 809.8h0M670.2 808.4h0M657.8 815.9h0M662.6 816.6h0M669.5 816.6h0M668.8 822.7h0M662.0 825.5h0M668.8 834.4h0M653.1 822.7h0M652.4 831.0h0M653.7 835.7h0M653.7 842.6h0M630.5 818.0h0M679.0 822.1h0M682.5 832.3h0M696.1 785.8h0M664.0 770.0h0M662.0 797.0h0M665.0 805.0h0M660.0 812.0h0M666.0 790.0h0M696.1 797.5h0M692.0 802.9h0M696.8 805.7h0M690.7 812.5h0M690.7 819.3h0M696.8 819.3h0M690.7 830.3h0M616.2 838.5h0M619.6 838.5h0M614.1 850.1h0M743.1 701.6h0M747.9 708.9h0M770.4 701.6h0M770.4 712.9h0M764.0 720.9h0M783.3 701.6h0M783.3 714.5h0M784.1 721.7h0M801.1 704.8h0M754.3 729.8h0M748.7 732.2h0M754.3 735.4h0M766.4 737.9h0M783.3 734.6h0M781.7 738.7h0M750.3 744.3h0M766.4 747.5h0M781.7 749.9h0M754.3 750.7h0M767.2 753.2h0M768.8 765.2h0M786.6 770.1h0M766.4 773.3h0M749.5 777.3h0M749.5 779.7h0M772.1 778.9h0M826.0 701.6h0M838.1 701.6h0M842.9 701.6h0M838.1 707.2h0M872.7 711.3h0M838.9 728.2h0M838.9 736.2h0M844.6 737.1h0M850.2 738.7h0M842.1 742.7h0M845.4 761.2h0M808.3 768.5h0M808.3 778.9h0M835.7 776.5h0M834.9 779.7h0M859.1 777.3h0M766.4 787.8h0M766.4 789.4h0M772.1 787.0h0M835.7 785.4h0M763.2 799.1h0M765.6 799.9h0M772.1 801.5h0M793.0 796.7h0M809.1 795.1h0M806.7 801.5h0M810.7 802.3h0M772.1 804.7h0M786.6 803.1h0M794.6 804.7h0M795.4 809.6h0M749.5 812.8h0M818.0 807.1h0M834.9 808.7h0M768.0 815.2h0M764.8 819.2h0M772.9 822.4h0M793.0 819.2h0M795.4 822.4h0M785.8 828.9h0M810.7 816.0h0M836.5 816.0h0M805.9 822.4h0M768.0 827.3h0M830.1 828.9h0M834.9 832.9h0M747.9 836.1h0M805.9 832.9h0M809.1 838.6h0M761.6 841.8h0M751.1 846.6h0M760.8 847.4h0M769.6 847.4h0M809.9 845.0h0M831.7 846.6h0M751.1 852.2h0M761.6 851.4h0M807.5 853.0h0M834.9 853.9h0M761.6 856.3h0M806.7 856.3h0M831.7 857.9h0M790.0 790.0h0M792.0 803.0h0M791.0 814.0h0M826.0 822.0h0M765.0 845.0h0M807.0 849.0h0M862.1 597.5h0M864.1 605.7h0M862.1 609.8h0M864.1 620.7h0M862.1 629.0h0M863.4 644.0h0M872.4 700.8h0M872.4 711.6h0M757.4 674.8h0M747.8 685.5h0M746.1 670.0h0M749.1 697.6h0M752.3 669.3h0M753.2 694.7h0M658.1 817.4h0M666.0 784.4h0M663.2 800.0h0M665.8 795.2h0M659.2 822.8h0M666.5 762.2h0M659.7 813.2h0M665.8 827.3h0M664.7 766.9h0M668.4 782.7h0M668.0 822.0h0M667.3 779.4h0M667.2 808.7h0M661.5 826.3h0M678.6 630.5h0M674.2 662.7h0M684.3 654.0h0M676.4 667.8h0M686.7 597.2h0"/>
<path stroke="#4a8cc4" stroke-width="6" stroke-linecap="round" fill="none" d="M781.5 536.6h0M769.2 551.7h0M820.5 581.7h0M778.1 583.1h0M771.9 600.2h0M774.7 602.9h0M774.0 607.0h0M777.4 605.0h0M813.6 594.0h0M776.0 616.6h0M774.0 622.8h0M777.4 629.6h0M774.7 638.5h0M740.5 660.4h0M774.7 646.7h0M774.7 650.8h0M776.0 658.3h0M858.0 615.2h0M858.0 619.3h0M864.9 623.4h0M865.6 636.4h0M865.6 652.2h0M739.1 660.4h0M930.6 649.3h0M938.5 687.3h0M869.8 693.8h0M866.1 690.1h0M739.4 661.5h0M738.3 664.7h0M739.4 687.3h0M706.1 678.7h0M699.7 685.1h0M699.7 692.6h0M700.7 700.2h0M705.0 702.3h0M714.7 703.4h0M775.9 647.5h0M774.9 651.8h0M775.9 658.3h0M773.8 665.8h0M778.1 670.1h0M783.5 687.3h0M624.5 538.7h0M620.3 548.0h0M625.4 555.8h0M622.8 560.9h0M622.0 581.4h0M627.1 590.8h0M622.8 576.3h0M635.6 569.4h0M619.0 568.0h0M651.0 533.5h0M651.0 538.7h0M651.8 543.8h0M651.0 549.0h0M678.0 571.1h0M677.5 581.4h0M682.6 584.0h0M678.0 599.3h0M683.8 598.8h0M676.6 612.2h0M683.5 617.3h0M675.8 624.1h0M680.1 627.5h0M686.0 627.5h0M675.8 631.8h0M676.6 642.9h0M674.1 650.6h0M681.8 652.3h0M674.9 654.9h0M685.2 660.9h0M680.1 665.1h0M688.6 672.0h0M674.9 679.6h0M681.8 681.4h0M687.8 684.8h0M679.0 620.0h0M684.0 608.0h0M670.2 826.8h0M679.0 826.2h0M692.0 797.5h0M692.0 808.4h0M693.4 813.9h0M689.3 825.5h0M694.1 826.2h0M694.1 835.0h0M644.9 819.3h0M646.9 835.7h0M630.5 837.1h0M649.6 845.3h0M649.6 852.1h0M652.4 854.9h0M630.5 856.9h0M647.6 839.8h0M645.0 826.0h0M614.1 846.0h0M618.2 852.1h0M615.5 856.2h0M620.3 853.5h0M781.7 761.2h0M867.9 725.8h0M788.2 783.8h0M789.8 783.0h0M781.7 798.3h0M789.8 792.6h0M789.8 799.1h0M785.8 807.1h0M789.8 810.4h0M778.5 816.0h0M778.5 823.2h0M789.8 817.6h0M824.4 816.8h0M830.1 816.0h0M778.5 828.9h0M824.4 832.1h0M760.8 837.7h0M768.8 841.0h0M778.5 834.5h0M823.6 837.7h0M830.1 841.8h0M780.1 845.0h0M818.8 845.0h0M822.0 840.2h0M768.8 852.2h0M780.9 851.4h0M820.4 850.6h0M829.2 853.0h0M768.8 857.1h0M780.9 856.3h0M818.8 857.1h0M822.8 854.7h0M822.0 826.0h0M865.5 624.2h0M865.5 636.5h0M865.5 652.2h0M930.4 649.5h0M868.3 725.7h0M859.2 777.2h0M867.5 692.7h0M872.4 693.9h0M880.6 668.7h0M875.6 685.9h0M875.8 676.7h0M868.0 673.6h0M702.4 674.3h0M702.2 698.8h0M703.7 694.2h0M737.3 677.8h0M740.4 667.5h0M760.4 678.4h0M744.3 684.6h0M620.8 544.3h0M633.1 555.4h0M617.2 562.8h0M626.3 541.8h0M622.0 592.3h0M643.1 839.6h0M641.2 841.5h0M678.2 591.0h0M673.1 613.8h0M687.4 651.1h0M686.5 655.4h0M684.8 642.3h0M681.4 602.1h0M673.7 630.5h0"/>
<path stroke="#45a26e" stroke-width="6" stroke-linecap="round" fill="none" d="M769.2 533.9h0M872.4 661.7h0M904.2 699.4h0M904.2 704.0h0M872.6 661.3h0M868.9 697.5h0M882.8 696.6h0M922.7 652.1h0M925.5 690.1h0M943.0 646.6h0M940.5 650.0h0M941.4 655.8h0M941.0 663.0h0M941.0 670.0h0M938.5 679.0h0M937.6 684.5h0M707.2 679.7h0M708.3 689.4h0M705.0 698.0h0M713.6 698.0h0M715.8 673.3h0M733.0 667.9h0M738.3 679.7h0M734.0 689.4h0M711.5 690.5h0M620.3 533.5h0M620.3 540.0h0M620.3 545.0h0M621.0 550.0h0M623.7 560.9h0M630.5 560.9h0M625.4 567.7h0M622.8 572.8h0M627.1 583.1h0M627.1 588.2h0M626.2 595.0h0M627.1 603.3h0M630.5 552.3h0M636.5 559.2h0M628.0 565.0h0M626.0 576.0h0M625.0 548.0h0M638.0 563.0h0M678.4 660.5h0M680.9 673.7h0M692.7 839.2h0M641.4 826.8h0M642.8 831.6h0M631.9 845.3h0M644.2 843.9h0M636.0 848.0h0M640.0 828.0h0M618.9 845.3h0M788.2 824.9h0M905.1 611.9h0M873.0 661.1h0M922.2 652.2h0M941.4 646.0h0M904.0 703.3h0M868.3 697.5h0M882.4 696.7h0M878.9 693.9h0M873.6 675.9h0M872.5 685.9h0M872.1 681.8h0M867.3 673.0h0M871.3 689.5h0M868.1 667.1h0M883.4 689.6h0M868.6 674.2h0M866.8 696.9h0M879.1 669.2h0M871.7 690.6h0M878.1 688.5h0M871.9 690.8h0M871.1 677.6h0M877.1 689.2h0M867.4 675.8h0M876.7 680.4h0M882.8 690.5h0M872.8 694.9h0M871.5 681.0h0M927.1 680.9h0M921.5 681.3h0M905.3 686.4h0M942.7 684.3h0M941.5 646.1h0M935.7 661.9h0M939.5 672.9h0M938.4 654.1h0M941.8 670.9h0M941.4 674.3h0M713.6 677.9h0M709.8 681.1h0M704.2 698.2h0M707.3 686.3h0M713.2 678.5h0M715.2 683.0h0M707.9 686.2h0M715.0 673.5h0M709.6 675.8h0M702.3 676.6h0M715.9 690.5h0M714.2 699.5h0M713.7 685.3h0M732.6 677.0h0M715.8 679.0h0M733.0 682.2h0M736.5 672.6h0M735.6 668.1h0M740.3 667.6h0M737.3 691.4h0M734.7 674.6h0M617.4 556.0h0M618.6 562.1h0M620.5 566.5h0M617.8 570.5h0M618.5 561.7h0M620.4 563.6h0M631.6 545.2h0M618.8 554.0h0M637.3 566.7h0M627.4 540.2h0M627.8 584.6h0M623.6 575.0h0M625.0 572.6h0M630.2 585.8h0M628.1 594.9h0M622.7 579.2h0M642.3 847.0h0M632.1 837.1h0M632.6 849.2h0M647.6 830.7h0"/>
<path stroke="#79c04b" stroke-width="6" stroke-linecap="round" fill="none" d="M873.6 667.8h0M874.5 676.2h0M869.8 686.4h0M881.0 688.2h0M879.1 682.7h0M905.1 663.2h0M905.1 669.7h0M905.1 686.4h0M914.4 705.0h0M915.3 699.4h0M931.1 655.8h0M940.3 658.6h0M929.2 679.0h0M710.4 685.1h0M716.9 690.5h0M733.0 690.5h0M735.1 675.4h0M717.9 674.4h0M636.5 535.3h0M635.6 543.0h0M634.8 551.5h0M634.8 559.2h0M633.0 566.0h0M628.8 571.1h0M624.5 579.7h0M631.4 581.4h0M632.0 574.0h0M629.0 556.0h0M638.7 822.7h0M640.1 839.8h0M637.3 842.6h0M638.7 852.1h0M638.7 856.2h0M642.8 849.4h0M922.2 636.5h0M914.0 705.0h0M875.2 673.1h0M869.2 680.0h0M886.0 695.4h0M877.7 666.4h0M877.4 680.9h0M879.1 686.3h0M875.8 682.0h0M894.4 690.0h0M891.2 664.3h0M891.1 679.4h0M897.5 680.4h0M922.7 696.5h0M922.4 689.8h0M926.7 693.8h0M930.7 683.8h0M931.3 681.0h0M935.2 671.1h0M707.0 686.4h0M707.4 691.9h0M702.6 698.3h0M715.8 686.1h0M728.2 692.8h0M723.4 671.0h0M729.8 670.6h0M735.4 671.1h0M740.5 675.1h0M734.3 681.9h0M632.6 543.1h0M625.8 547.6h0M630.0 550.8h0M637.7 550.5h0M625.2 595.7h0M635.9 830.9h0M647.2 845.7h0M635.7 837.9h0M637.1 837.5h0"/>
<path stroke="#e3dd58" stroke-width="6" stroke-linecap="round" fill="none" d="M885.6 680.8h0M884.7 675.3h0M901.4 692.0h0M915.3 695.7h0M918.1 689.2h0M926.4 687.3h0M932.0 663.2h0M932.9 669.7h0M921.8 669.7h0M719.0 683.0h0M725.4 690.5h0M730.8 683.0h0M728.7 677.6h0M635.3 575.4h0M891.8 672.3h0M894.0 693.9h0M889.1 683.1h0M890.7 693.8h0M929.6 668.2h0M931.5 657.0h0M921.5 674.8h0M917.6 672.6h0M920.6 662.2h0M910.7 658.9h0M910.4 676.6h0M913.4 670.7h0M918.7 668.3h0M905.7 678.4h0M910.5 681.2h0M905.4 684.4h0M934.8 696.8h0M718.4 686.8h0M721.8 681.6h0M731.9 689.8h0M719.2 691.8h0M733.0 678.1h0M727.1 683.0h0M726.1 682.7h0M715.8 691.2h0M723.2 679.9h0M729.6 680.6h0"/>
<path stroke="#f6a643" stroke-width="6" stroke-linecap="round" fill="none" d="M887.5 685.5h0M907.0 677.1h0M921.8 660.4h0M927.4 659.5h0M927.4 667.8h0M926.4 674.3h0M916.2 685.5h0M914.4 666.0h0M724.4 672.2h0M723.3 678.7h0M895.3 669.3h0M896.1 677.2h0M920.8 666.5h0M911.2 667.7h0M929.0 665.5h0M932.7 660.3h0M906.2 670.9h0M911.4 667.8h0M924.1 663.3h0M914.2 688.9h0M917.8 690.7h0M933.3 683.8h0M909.7 678.7h0M727.6 690.2h0M714.6 670.3h0"/>
<path stroke="#ef6328" stroke-width="6" stroke-linecap="round" fill="none" d="M894.0 675.3h0M898.6 666.0h0M897.7 672.5h0M897.7 646.0h0M897.7 652.1h0M910.7 662.3h0M914.4 682.7h0M920.0 677.1h0M920.9 683.6h0M897.6 646.0h0M897.6 652.2h0M894.0 692.7h0M897.5 682.0h0M887.1 692.5h0M896.4 683.7h0M893.7 686.3h0M886.8 677.9h0M891.8 666.1h0M917.2 675.9h0M926.4 663.2h0"/>
<path stroke="#dc3127" stroke-width="6" stroke-linecap="round" fill="none" d="M892.1 680.8h0M892.1 685.5h0M898.6 676.2h0M899.5 681.7h0M900.5 686.4h0M910.7 656.7h0M911.6 677.1h0M910.6 657.0h0M892.2 676.8h0M893.9 669.7h0M888.5 686.8h0M899.2 687.7h0M888.9 674.2h0"/>
<path stroke="#b51a24" stroke-width="6" stroke-linecap="round" fill="none" d="M911.6 666.9h0"/>
</g>
<line x1="606.20" y1="860.00" x2="614.50" y2="860.00" stroke="#000" stroke-width="1.3"/>
<line x1="614.50" y1="860.00" x2="951.00" y2="860.00" stroke="#000" stroke-width="1.2"/>
<text x="595.50" y="865.30" font-size="15" text-anchor="end" fill="#000">North</text>
<line x1="606.20" y1="778.12" x2="614.50" y2="778.12" stroke="#000" stroke-width="1.3"/>
<line x1="614.50" y1="778.12" x2="951.00" y2="778.12" stroke="#000" stroke-width="1.2"/>
<text x="595.50" y="783.42" font-size="15" text-anchor="end" fill="#000">East</text>
<line x1="606.20" y1="696.25" x2="614.50" y2="696.25" stroke="#000" stroke-width="1.3"/>
<line x1="614.50" y1="696.25" x2="951.00" y2="696.25" stroke="#000" stroke-width="1.2"/>
<text x="595.50" y="701.55" font-size="15" text-anchor="end" fill="#000">South</text>
<line x1="606.20" y1="614.38" x2="614.50" y2="614.38" stroke="#000" stroke-width="1.3"/>
<line x1="614.50" y1="614.38" x2="951.00" y2="614.38" stroke="#000" stroke-width="1.2"/>
<text x="595.50" y="619.67" font-size="15" text-anchor="end" fill="#000">West</text>
<line x1="606.20" y1="532.50" x2="614.50" y2="532.50" stroke="#000" stroke-width="1.3"/>
<line x1="614.50" y1="532.50" x2="951.00" y2="532.50" stroke="#000" stroke-width="1.2"/>
<text x="595.50" y="537.80" font-size="15" text-anchor="end" fill="#000">North</text>
<line x1="943.00" y1="524.00" x2="943.00" y2="860.00" stroke="#777" stroke-width="1.3"/>
<line x1="614.50" y1="532.50" x2="614.50" y2="860.00" stroke="#000" stroke-width="1.3"/>
<line x1="613.85" y1="860.00" x2="951.00" y2="860.00" stroke="#000" stroke-width="1.3"/>
<line x1="614.50" y1="860.00" x2="614.50" y2="868.50" stroke="#000" stroke-width="1.3"/>
<line x1="614.50" y1="532.50" x2="614.50" y2="524.00" stroke="#000" stroke-width="1.3"/>
<text x="614.50" y="890.30" font-size="15" text-anchor="middle" fill="#000">01/08</text>
<line x1="661.43" y1="860.00" x2="661.43" y2="868.50" stroke="#000" stroke-width="1.3"/>
<line x1="661.43" y1="532.50" x2="661.43" y2="524.00" stroke="#000" stroke-width="1.3"/>
<text x="661.43" y="890.30" font-size="15" text-anchor="middle" fill="#000">02/08</text>
<line x1="708.36" y1="860.00" x2="708.36" y2="868.50" stroke="#000" stroke-width="1.3"/>
<line x1="708.36" y1="532.50" x2="708.36" y2="524.00" stroke="#000" stroke-width="1.3"/>
<text x="708.36" y="890.30" font-size="15" text-anchor="middle" fill="#000">03/08</text>
<line x1="755.29" y1="860.00" x2="755.29" y2="868.50" stroke="#000" stroke-width="1.3"/>
<line x1="755.29" y1="532.50" x2="755.29" y2="524.00" stroke="#000" stroke-width="1.3"/>
<text x="755.29" y="890.30" font-size="15" text-anchor="middle" fill="#000">04/08</text>
<line x1="802.21" y1="860.00" x2="802.21" y2="868.50" stroke="#000" stroke-width="1.3"/>
<line x1="802.21" y1="532.50" x2="802.21" y2="524.00" stroke="#000" stroke-width="1.3"/>
<text x="802.21" y="890.30" font-size="15" text-anchor="middle" fill="#000">05/08</text>
<line x1="849.14" y1="860.00" x2="849.14" y2="868.50" stroke="#000" stroke-width="1.3"/>
<line x1="849.14" y1="532.50" x2="849.14" y2="524.00" stroke="#000" stroke-width="1.3"/>
<text x="849.14" y="890.30" font-size="15" text-anchor="middle" fill="#000">06/08</text>
<line x1="896.07" y1="860.00" x2="896.07" y2="868.50" stroke="#000" stroke-width="1.3"/>
<line x1="896.07" y1="532.50" x2="896.07" y2="524.00" stroke="#000" stroke-width="1.3"/>
<text x="896.07" y="890.30" font-size="15" text-anchor="middle" fill="#000">07/08</text>
<line x1="943.00" y1="860.00" x2="943.00" y2="868.50" stroke="#000" stroke-width="1.3"/>
<line x1="943.00" y1="532.50" x2="943.00" y2="524.00" stroke="#000" stroke-width="1.3"/>
<text x="943.00" y="890.30" font-size="15" text-anchor="middle" fill="#000">08/08</text>
<text x="778.75" y="919.00" font-size="20.9" text-anchor="middle" fill="#000">Time (Day/UTC)</text>
<text x="778.75" y="505.30" font-size="25.4" text-anchor="middle" fill="#000">Wind Direction</text>
<text x="540.30" y="696.25" font-size="21.2" text-anchor="middle" fill="#000" transform="rotate(-90 540.3 696.25)">Direction (Colored By Speed)</text>
<rect x="953.2" y="594.10" width="30" height="20.74" fill="#8f161b"/>
<text x="1007.30" y="609.62" font-size="16.4" text-anchor="middle" fill="#000">20+</text>
<rect x="953.2" y="614.54" width="30" height="20.74" fill="#b51a24"/>
<text x="1007.30" y="630.05" font-size="16.4" text-anchor="middle" fill="#000">18</text>
<rect x="953.2" y="634.97" width="30" height="20.74" fill="#dc3127"/>
<text x="1007.30" y="650.49" font-size="16.4" text-anchor="middle" fill="#000">16</text>
<rect x="953.2" y="655.41" width="30" height="20.74" fill="#ef6328"/>
<text x="1007.30" y="670.93" font-size="16.4" text-anchor="middle" fill="#000">14</text>
<rect x="953.2" y="675.85" width="30" height="20.74" fill="#f6a643"/>
<text x="1007.30" y="691.36" font-size="16.4" text-anchor="middle" fill="#000">12</text>
<rect x="953.2" y="696.28" width="30" height="20.74" fill="#e3dd58"/>
<text x="1007.30" y="711.80" font-size="16.4" text-anchor="middle" fill="#000">10</text>
<rect x="953.2" y="716.72" width="30" height="20.74" fill="#79c04b"/>
<text x="1007.30" y="732.24" font-size="16.4" text-anchor="middle" fill="#000">8</text>
<rect x="953.2" y="737.15" width="30" height="20.74" fill="#45a26e"/>
<text x="1007.30" y="752.67" font-size="16.4" text-anchor="middle" fill="#000">6</text>
<rect x="953.2" y="757.59" width="30" height="20.74" fill="#4a8cc4"/>
<text x="1007.30" y="773.11" font-size="16.4" text-anchor="middle" fill="#000">4</text>
<rect x="953.2" y="778.03" width="30" height="20.74" fill="#7db8e2"/>
<text x="1007.30" y="793.55" font-size="16.4" text-anchor="middle" fill="#000">2</text>
<rect x="953.2" y="798.46" width="30" height="20.74" fill="#b4e1f6"/>
<text x="1007.30" y="813.98" font-size="16.4" text-anchor="middle" fill="#000">0</text>
<text x="1007.50" y="588.00" font-size="16.4" text-anchor="middle" fill="#000">mph</text>
<text x="29.00" y="935.90" font-size="16.9" text-anchor="start" fill="#000">Location: Tyrone</text>
<text x="29.00" y="957.90" font-size="16.9" text-anchor="start" fill="#000">Station elevation: 366.857 m</text>
<text x="29.00" y="977.40" font-size="16.9" text-anchor="start" fill="#000">Station lat/lon: 42.4061; -77.0539</text>
<text x="29.00" y="997.30" font-size="16.9" text-anchor="start" fill="#000">Figure created on Sun, 2026-03-08, at 08:30 UTC</text>
<text x="29.00" y="1017.30" font-size="16.9" text-anchor="start" fill="#000">Most recent data timestamp: 2026/03/08 08:15:00</text>
<text x="973.00" y="952.00" font-size="19.6" text-anchor="end" fill="#000">Extremes For Past 7 Days</text>
<text x="973.00" y="978.30" font-size="19.75" text-anchor="end" fill="#000">(High/Low/Max Wind/Total Precipitation)</text>
<text x="973.00" y="1005.20" font-size="19.6" text-anchor="end" fill="#c0202a" font-weight="bold">61.9/4.6/17.7/0.93</text>
</svg></body></html>
